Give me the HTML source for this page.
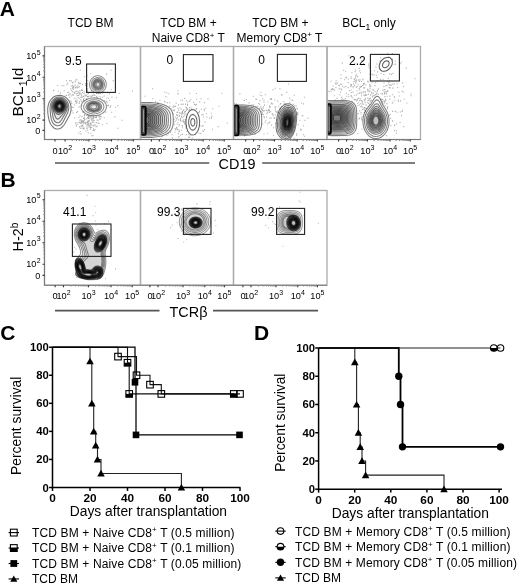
<!DOCTYPE html>
<html><head><meta charset="utf-8"><style>
html,body{margin:0;padding:0;background:#fff;}
body{width:520px;height:586px;overflow:hidden;}
svg{display:block;font-family:"Liberation Sans", sans-serif;will-change:transform;}
</style></head><body>
<svg width="520" height="586" viewBox="0 0 520 586">
<rect width="520" height="586" fill="#fff"/>
<clipPath id="a1"><rect x="44.5" y="46.5" width="96.0" height="93.0"/></clipPath>
<g clip-path="url(#a1)">

<path d="M79.5 120.5h1M95.6 126.6h1M82.8 128.4h1M86.4 128.6h1M87.5 123.4h1M83.6 120.7h1M79.8 122.7h1M91.9 122.1h1M90.2 129.4h1M76.3 122.8h1M102.1 124.8h1M93.8 120.8h1M83.4 129.2h1M85.2 123.3h1M87.6 125.5h1M80.5 133.9h1M91.5 120.1h1M96.4 120.0h1M86.2 126.3h1M93.4 122.3h1M78.3 117.5h1M87.1 122.4h1M90.7 125.1h1M79.9 128.3h1M87.5 122.3h1M98.3 115.2h1M103.7 117.7h1M93.0 116.6h1M82.2 125.4h1M80.7 123.8h1M79.5 120.4h1M91.2 119.0h1M92.5 130.5h1M84.0 122.7h1M80.6 126.5h1M89.5 123.4h1M89.9 117.0h1M87.2 130.3h1M87.6 118.4h1M81.4 116.6h1M88.8 117.7h1M96.1 117.4h1M88.4 126.9h1M88.4 121.3h1M90.6 123.1h1M91.2 115.9h1M91.2 127.5h1M83.2 128.1h1M78.4 122.8h1M89.6 115.9h1M80.4 122.2h1M87.6 115.6h1M90.8 119.5h1M85.5 131.0h1M88.6 118.7h1M78.2 133.2h1M82.9 118.2h1M81.1 121.5h1M91.9 118.5h1M79.7 131.5h1M82.6 126.2h1M81.4 128.1h1M88.0 124.8h1M91.2 135.8h1M81.6 125.8h1M86.9 124.2h1M97.7 116.0h1M86.1 115.5h1M83.1 122.1h1M90.3 127.0h1M86.7 127.7h1M83.8 115.3h1M77.2 124.2h1M92.9 122.2h1M84.6 114.3h1M88.0 124.1h1M95.8 122.6h1M92.5 135.8h1M87.3 121.1h1M93.3 116.5h1M94.1 125.5h1M87.6 120.8h1M85.8 118.9h1M83.5 118.7h1M82.2 122.1h1M90.2 123.9h1M86.5 128.4h1M76.0 126.0h1M87.1 117.6h1M94.4 129.5h1M86.3 128.5h1M76.9 111.6h1M87.3 125.0h1M92.7 126.0h1M89.2 126.8h1M85.4 124.3h1M99.4 119.4h1M92.9 120.1h1M90.4 133.2h1M92.7 125.1h1M96.7 126.0h1M92.9 117.9h1M88.5 114.9h1M84.1 114.6h1M83.1 121.7h1M87.8 116.2h1M94.9 117.2h1M89.8 127.9h1M88.2 117.9h1M91.3 120.4h1M81.3 120.2h1M76.1 112.6h1M85.4 122.2h1M81.1 120.2h1M97.7 123.1h1M87.0 114.5h1M86.5 122.5h1M78.8 122.3h1M89.7 117.0h1M84.3 119.7h1M94.7 117.7h1M93.0 129.1h1M71.7 110.8h1M84.0 118.7h1M95.5 116.9h1M92.7 118.5h1M89.1 125.3h1M79.5 115.9h1M79.8 119.7h1M98.6 123.2h1M75.0 123.0h1M91.8 116.7h1M93.7 130.6h1M82.8 123.8h1M84.8 123.5h1M88.3 121.4h1M81.8 121.0h1M80.6 126.0h1M82.7 120.9h1M87.6 117.2h1M90.2 125.3h1M87.9 121.4h1M88.5 116.4h1M83.9 115.6h1M83.7 128.0h1M94.7 124.8h1M87.7 132.9h1M77.5 91.4h1M79.7 83.7h1M86.0 98.7h1M105.9 101.3h1M80.0 83.2h1M70.7 86.0h1M71.2 95.8h1M77.6 95.7h1M69.3 97.1h1M84.1 117.5h1M77.9 82.2h1M86.7 96.5h1M80.2 99.6h1M74.2 118.0h1M77.6 97.8h1M80.2 97.2h1M86.0 95.2h1M72.5 82.2h1M76.9 88.0h1M67.2 83.1h1M87.2 88.8h1M97.5 120.3h1M93.7 94.7h1M75.2 87.6h1M77.7 87.3h1M77.0 93.3h1M69.2 80.6h1M72.9 87.6h1M67.7 95.0h1M79.1 101.7h1M70.5 81.3h1M75.8 93.6h1M76.5 80.0h1M74.7 81.1h1M70.7 80.7h1M78.1 95.2h1M76.7 95.5h1M83.5 98.5h1M107.0 105.7h1M88.0 93.4h1M74.9 101.4h1M98.4 93.4h1M71.0 101.7h1M72.3 91.9h1M73.1 89.2h1M75.4 91.6h1M87.3 96.5h1M83.3 111.9h1M52.9 90.0h1M86.1 89.8h1M71.9 87.3h1M84.1 76.7h1M73.8 98.2h1M87.2 96.8h1M66.4 84.6h1M65.9 95.4h1M73.8 93.4h1M99.5 96.7h1M110.4 105.8h1M86.4 90.1h1M75.6 79.3h1M82.8 96.4h1M75.6 87.0h1M86.4 99.3h1M68.3 92.3h1M71.2 103.6h1M81.0 97.1h1M75.7 103.4h1M78.6 103.5h1M66.0 80.8h1M79.7 93.1h1M75.6 91.1h1M74.9 85.3h1M82.1 97.3h1M74.2 92.3h1M87.3 80.8h1M83.0 99.5h1M79.8 70.0h1M102.2 97.1h1M73.4 85.9h1M72.0 85.8h1M81.1 105.7h1M84.5 95.3h1M87.0 91.2h1M76.4 87.0h1M81.1 95.2h1M106.8 92.8h1M67.2 92.5h1M78.9 102.1h1M69.2 93.7h1M60.0 92.9h1M80.9 90.4h1M77.2 100.3h1M83.4 96.4h1M105.3 112.1h1M72.0 88.7h1M98.8 117.2h1M64.6 96.0h1M57.9 91.2h1M63.7 90.8h1M81.4 101.1h1M53.3 90.8h1M88.1 96.4h1M82.0 90.4h1M85.0 83.7h1M74.7 81.9h1M81.4 101.4h1M68.3 95.1h1M83.7 91.8h1M78.6 83.7h1M73.0 89.2h1M83.0 100.2h1M83.5 93.4h1M77.3 85.2h1M114.3 116.9h1M99.3 116.2h1M78.9 98.2h1M69.7 94.2h1M79.4 90.9h1M78.4 107.0h1M79.4 94.6h1M72.6 112.9h1M79.2 93.5h1M86.8 90.6h1M74.2 105.0h1M89.7 96.0h1M61.5 85.8h1M75.6 98.0h1M85.1 85.5h1M70.4 88.9h1M75.5 101.6h1M73.0 86.8h1M72.9 95.1h1M79.3 93.9h1M75.4 100.1h1M97.3 97.3h1M85.1 95.7h1M83.6 100.5h1M86.8 94.0h1M78.8 86.6h1M74.7 87.9h1M81.2 89.8h1M63.3 85.7h1M57.1 85.5h1M81.2 101.8h1M72.0 94.8h1M76.5 102.4h1M82.1 84.4h1M78.5 92.5h1M75.6 125.0h1M117.6 128.3h1M103.8 96.0h1M108.0 105.4h1M99.5 116.1h1M105.9 74.1h1M86.7 86.1h1M79.0 126.9h1M116.0 97.8h1M78.5 82.9h1M104.2 100.7h1M106.5 102.4h1M111.2 112.3h1M71.6 107.1h1M109.9 107.1h1M96.3 97.2h1M108.1 98.3h1M99.9 93.4h1M86.5 75.7h1M106.5 98.0h1M71.2 90.6h1M91.7 95.8h1M93.3 117.5h1M110.7 70.3h1M88.7 120.6h1M77.4 93.3h1M115.4 68.9h1M92.6 95.0h1M110.8 89.5h1M118.7 93.3h1M117.4 105.6h1M96.0 96.8h1M90.9 96.5h1M100.2 98.3h1M96.3 93.5h1M101.9 93.2h1M90.6 117.7h1M92.8 92.6h1M96.0 116.4h1M109.2 100.3h1M82.3 112.2h1M71.9 82.9h1M92.3 95.3h1M111.4 97.4h1M81.2 122.6h1M121.5 120.3h1M86.2 89.1h1M87.1 83.9h1M99.9 116.8h1M109.1 93.8h1M78.5 106.7h1M100.9 116.7h1M115.1 107.3h1M106.3 123.5h1M112.7 80.6h1M90.9 90.6h1M99.7 118.9h1M82.0 92.5h1M132.0 91.0h1M109.5 107.2h1M81.2 94.0h1M90.3 73.7h1M94.4 95.5h1M72.8 107.5h1M69.6 101.0h1" stroke="#aaa" stroke-width="1.06" fill="none"/>
<path d="M58.5 125.8 56.8 125.8 55.0 125.1 53.5 123.8 52.1 121.5 51.3 119.2 50.7 116.2 50.1 110.5 50.1 107.5 50.3 105.2 50.9 103.2 51.9 101.2 53.1 99.8 54.5 98.6 56.2 97.6 58.0 97.1 60.0 97.0 62.0 97.3 63.5 97.9 65.2 99.1 66.5 100.5 67.6 102.2 68.3 104.0 68.7 106.0 68.8 108.0 68.4 110.5 67.7 112.8 63.3 121.5 62.2 123.2 61.0 124.5 59.8 125.3 58.5 125.8" fill="#000" fill-opacity="0.02" fill-rule="evenodd" stroke="#000" stroke-opacity="0.55" stroke-width="1.05"/>
<path d="M58.0 122.8 56.8 122.7 55.5 122.0 54.5 120.9 53.6 119.2 53.0 117.0 51.7 109.5 51.5 106.2 51.8 104.5 52.3 103.0 53.2 101.5 54.2 100.3 55.5 99.3 57.0 98.5 58.5 98.2 60.0 98.1 61.5 98.4 63.0 99.0 64.2 99.8 65.4 101.0 66.4 102.5 67.0 104.0 67.4 105.8 67.4 107.5 67.1 109.2 66.4 111.2 61.5 120.0 59.8 122.0 59.0 122.5 58.0 122.8" fill="#000" fill-opacity="0.03" fill-rule="evenodd" stroke="#000" stroke-opacity="0.55" stroke-width="1.05"/>
<path d="M58.2 119.0 57.5 119.1 56.8 118.8 56.0 118.0 55.5 117.0 52.9 109.8 52.5 107.8 52.5 105.8 52.8 104.2 53.5 102.8 54.3 101.5 55.2 100.5 57.5 99.3 58.8 99.0 60.2 99.0 61.5 99.3 62.8 99.9 64.0 100.8 64.9 101.8 65.6 103.0 66.2 104.5 66.4 106.0 66.4 107.5 65.8 109.8 64.6 112.0 59.5 118.2 58.2 119.0" fill="#000" fill-opacity="0.04" fill-rule="evenodd" stroke="#000" stroke-opacity="0.55" stroke-width="1.05"/>
<path d="M59.0 114.5 58.0 114.5 57.0 114.1 56.0 113.2 55.1 112.0 54.2 110.5 53.6 109.0 53.3 106.2 53.8 103.8 54.5 102.5 55.2 101.6 57.2 100.2 58.5 99.8 59.8 99.7 61.0 99.9 62.2 100.4 64.1 102.0 65.3 104.2 65.7 106.8 65.1 109.2 63.8 111.5 61.5 113.4 60.2 114.1 59.0 114.5" fill="#000" fill-opacity="0.05" fill-rule="evenodd" stroke="#000" stroke-opacity="0.55" stroke-width="1.05"/>
<path d="M59.0 113.0 58.0 112.9 57.0 112.4 55.3 110.8 54.2 108.5 53.9 106.0 54.5 103.8 55.8 101.9 57.5 100.8 58.5 100.5 59.8 100.4 61.8 100.9 63.5 102.2 64.7 104.2 65.0 106.8 64.5 109.0 63.1 111.0 61.2 112.4 60.0 112.9 59.0 113.0" fill="#000" fill-opacity="0.06" fill-rule="evenodd" stroke="#000" stroke-opacity="0.55" stroke-width="1.05"/>
<path d="M60.0 112.0 59.0 112.1 58.0 111.9 56.2 110.8 55.0 109.0 54.5 106.8 54.7 104.8 55.7 102.8 57.2 101.5 59.2 100.9 61.2 101.2 62.8 102.2 64.0 104.0 64.5 106.0 64.2 108.0 63.2 109.9 61.8 111.3 60.0 112.0" fill="#000" fill-opacity="0.08" fill-rule="evenodd" stroke="#000" stroke-opacity="0.55" stroke-width="1.05"/>
<path d="M59.5 111.5 57.8 111.2 56.2 110.1 55.2 108.2 54.9 106.2 55.3 104.2 56.2 102.8 57.8 101.7 59.5 101.3 61.2 101.7 62.7 102.8 63.7 104.2 64.1 106.2 63.7 108.2 62.8 109.8 61.2 111.0 59.5 111.5" fill="#000" fill-opacity="0.1" fill-rule="evenodd" stroke="#000" stroke-opacity="0.55" stroke-width="1.05"/>
<path d="M60.5 110.8 58.8 110.9 57.2 110.3 56.0 109.0 55.4 107.2 55.3 105.5 56.0 103.8 57.2 102.4 58.8 101.8 60.2 101.8 61.8 102.4 63.0 103.8 63.6 105.2 63.6 107.0 63.0 108.7 61.9 110.0 60.5 110.8" fill="#000" fill-opacity="0.12" fill-rule="evenodd" stroke="#000" stroke-opacity="0.55" stroke-width="1.05"/>
<path d="M60.5 110.3 59.0 110.4 57.5 109.9 56.4 108.8 55.8 107.2 55.7 105.5 56.3 104.0 57.2 102.9 58.8 102.2 60.2 102.2 61.5 102.8 62.5 103.8 63.2 105.2 63.3 106.8 62.8 108.2 61.8 109.5 60.5 110.3" fill="#000" fill-opacity="0.12" fill-rule="evenodd" stroke="#000" stroke-opacity="0.55" stroke-width="1.05"/>
<path d="M60.5 109.8 59.0 110.0 57.8 109.5 56.8 108.5 56.2 107.2 56.1 105.8 56.6 104.2 57.5 103.2 58.8 102.6 60.0 102.6 61.2 103.1 62.2 104.0 62.8 105.2 62.9 106.8 62.5 108.0 61.7 109.0 60.5 109.8" fill="#000" fill-opacity="0.1" fill-rule="evenodd" stroke="#000" stroke-opacity="0.55" stroke-width="1.05"/>
<path d="M59.8 109.0 58.8 109.0 57.8 108.4 57.1 107.5 56.9 106.5 57.0 105.3 57.5 104.4 58.2 103.7 59.2 103.4 60.2 103.5 61.2 104.1 61.9 105.0 62.1 106.0 62.0 107.0 61.5 108.0 60.8 108.7 59.8 109.0" fill="#fff" fill-opacity="0.3" fill-rule="evenodd" stroke="#000" stroke-opacity="0.55" stroke-width="1.05"/>
<path d="M59.5 108.5 58.8 108.4 58.0 107.9 57.5 107.0 57.4 106.2 57.5 105.2 58.0 104.5 58.8 104.0 59.5 103.9 60.2 104.0 61.0 104.6 61.4 105.2 61.6 106.2 61.5 107.0 61.0 107.8 60.2 108.3 59.5 108.5" fill="#fff" fill-opacity="0.3" fill-rule="evenodd" stroke="#000" stroke-opacity="0.55" stroke-width="1.05"/>
<path d="M58.2 129.0 56.0 128.9 54.0 128.0 52.1 126.2 50.6 124.0 49.3 121.0 48.4 117.2 47.8 112.8 47.7 108.8 48.1 105.8 48.8 103.2 49.9 101.0 51.4 99.0 53.2 97.3 55.5 96.1 57.8 95.4 60.0 95.3 62.2 95.7 64.5 96.6 66.5 97.9 68.2 99.8 69.5 101.8 70.4 104.0 71.0 106.5 71.1 109.2 70.6 112.2 69.7 115.0 64.6 124.2 63.1 126.2 61.5 127.7 60.0 128.5 58.2 129.0M59.5 109.5 58.2 109.2 57.3 108.5 56.7 107.5 56.5 106.2 56.7 105.0 57.3 104.0 58.2 103.2 59.5 103.0 60.8 103.3 61.7 104.0 62.3 105.0 62.5 106.2 62.2 107.5 61.6 108.5 60.8 109.2 59.5 109.5M60.2 107.5 59.2 107.7 58.7 107.5 58.2 107.0 58.1 105.8 58.3 105.2 58.9 104.8 60.0 104.7 60.8 105.5 60.9 106.5 60.2 107.5" fill="none" stroke="#000" stroke-opacity="0.55" stroke-width="1.05"/>
<path d="M94.8 112.3 92.2 112.2 90.0 111.6 88.0 110.5 86.8 109.2 86.0 107.8 86.0 106.0 86.8 104.2 88.2 102.9 89.8 102.1 91.5 101.5 93.2 101.3 95.2 101.4 97.0 101.8 98.7 102.5 100.0 103.4 101.0 104.5 101.5 105.8 101.7 107.0 101.4 108.2 100.7 109.5 99.6 110.5 98.2 111.3 96.5 112.0 94.8 112.3" fill="#000" fill-opacity="0.08" fill-rule="evenodd" stroke="#000" stroke-opacity="0.45" stroke-width="1.05"/>
<path d="M95.5 111.3 93.5 111.4 91.5 111.1 89.8 110.4 88.4 109.5 87.5 108.2 87.2 107.0 87.5 105.5 88.3 104.2 89.2 103.5 90.5 102.8 92.0 102.4 93.5 102.2 95.0 102.3 96.5 102.6 98.0 103.2 99.1 104.0 99.9 105.0 100.3 106.0 100.4 107.2 100.1 108.2 99.4 109.2 98.2 110.2 97.0 110.8 95.5 111.3" fill="#000" fill-opacity="0.08" fill-rule="evenodd" stroke="#000" stroke-opacity="0.45" stroke-width="1.05"/>
<path d="M95.5 110.5 94.0 110.7 92.2 110.6 90.8 110.1 89.4 109.2 88.6 108.2 88.2 107.0 88.4 105.8 89.0 104.8 89.9 104.0 91.0 103.4 93.5 102.9 96.1 103.2 97.3 103.8 98.2 104.4 98.9 105.2 99.3 106.2 99.3 107.2 99.1 108.0 98.6 108.8 97.8 109.6 95.5 110.5" fill="#000" fill-opacity="0.05" fill-rule="evenodd" stroke="#000" stroke-opacity="0.45" stroke-width="1.05"/>
<path d="M95.5 109.8 94.2 110.0 92.8 109.9 91.5 109.6 90.5 109.0 89.7 108.2 89.3 107.2 89.3 106.2 89.8 105.2 91.2 104.1 93.2 103.6 95.5 103.8 97.2 104.7 98.2 106.0 98.4 106.8 98.3 107.5 97.9 108.2 97.2 108.9 95.5 109.8" fill="#fff" fill-opacity="0.5" fill-rule="evenodd" stroke="#000" stroke-opacity="0.45" stroke-width="1.05"/>
<path d="M96.2 115.5 92.2 115.6 88.5 114.9 85.2 113.4 82.8 111.2 82.0 110.0 81.4 108.8 81.1 107.5 81.2 106.0 81.4 104.8 82.0 103.5 82.9 102.2 84.0 101.2 86.2 99.7 88.8 98.6 91.5 98.1 94.8 97.9 97.8 98.4 100.2 99.1 102.8 100.5 104.7 102.2 106.0 104.2 106.5 106.2 106.3 108.2 105.3 110.5 103.8 112.3 101.5 113.9 99.0 114.9 96.2 115.5M95.8 113.8 92.8 113.9 89.8 113.3 87.0 112.1 85.1 110.5 83.9 108.5 83.7 107.2 83.7 106.2 84.3 104.2 86.0 102.2 87.8 101.1 90.0 100.2 92.2 99.8 94.8 99.7 97.2 100.1 99.2 100.8 101.2 102.0 102.6 103.2 103.5 104.8 103.9 106.5 103.7 108.2 103.0 109.8 101.7 111.2 100.0 112.4 98.0 113.3 95.8 113.8M95.0 108.8 93.2 108.9 91.6 108.2 91.1 107.8 90.8 107.0 90.9 106.2 91.1 105.8 92.2 105.0 93.5 104.7 94.8 104.8 96.0 105.3 96.7 106.2 96.8 107.2 96.0 108.2 95.0 108.8" fill="none" stroke="#000" stroke-opacity="0.45" stroke-width="1.05"/>
<path d="M98.8 91.3 96.2 91.1 95.0 90.6 93.8 89.8 92.8 88.8 92.0 87.8 91.2 85.2 91.4 82.8 91.8 81.5 92.5 80.2 93.4 79.2 94.5 78.4 95.8 77.9 97.0 77.6 99.5 77.7 100.8 78.1 102.0 78.9 103.0 79.9 103.7 81.0 104.5 83.5 104.6 84.8 104.4 86.2 103.2 88.6 102.2 89.7 101.2 90.4 100.0 91.0 98.8 91.3" fill="#000" fill-opacity="0.04" fill-rule="evenodd" stroke="#000" stroke-opacity="0.42" stroke-width="1.05"/>
<path d="M98.2 90.0 96.0 89.7 94.2 88.6 93.0 86.8 92.5 84.8 92.7 82.8 93.8 80.8 95.5 79.4 97.5 78.8 99.8 79.1 101.5 80.2 102.8 82.0 103.3 84.0 103.0 86.2 102.0 88.1 100.2 89.5 98.2 90.0" fill="#000" fill-opacity="0.06" fill-rule="evenodd" stroke="#000" stroke-opacity="0.42" stroke-width="1.05"/>
<path d="M99.0 89.0 97.2 89.1 95.5 88.5 94.2 87.2 93.4 85.5 93.4 83.5 94.1 81.8 95.3 80.5 97.0 79.7 98.8 79.7 100.2 80.3 101.6 81.5 102.4 83.2 102.5 85.0 101.9 86.8 100.8 88.1 99.0 89.0" fill="#000" fill-opacity="0.06" fill-rule="evenodd" stroke="#000" stroke-opacity="0.42" stroke-width="1.05"/>
<path d="M98.2 88.3 96.8 88.1 95.5 87.4 94.6 86.2 94.1 84.8 94.3 83.2 95.0 81.9 96.1 81.0 97.5 80.5 99.0 80.7 100.2 81.4 101.2 82.5 101.7 84.0 101.5 85.5 100.8 86.9 99.5 87.9 98.2 88.3" fill="#000" fill-opacity="0.04" fill-rule="evenodd" stroke="#000" stroke-opacity="0.42" stroke-width="1.05"/>
<path d="M98.8 87.3 97.5 87.4 96.5 87.1 95.6 86.2 95.1 85.2 95.0 84.0 95.4 82.8 96.2 81.9 97.2 81.5 98.5 81.4 99.5 81.9 100.2 82.6 100.8 83.7 100.8 84.8 100.5 85.8 99.8 86.7 98.8 87.3" fill="#fff" fill-opacity="0.5" fill-rule="evenodd" stroke="#000" stroke-opacity="0.42" stroke-width="1.05"/>
<path d="M98.5 93.0 96.8 93.0 95.2 92.6 93.8 91.9 92.5 91.0 91.3 89.8 90.4 88.2 89.8 86.8 89.5 85.0 89.6 83.2 89.9 81.8 90.6 80.2 91.6 78.8 92.8 77.6 94.2 76.6 95.8 76.1 97.2 75.8 99.0 75.8 100.5 76.2 102.0 76.9 103.2 77.8 104.4 79.0 105.4 80.5 106.0 82.0 106.3 83.8 106.2 85.5 105.9 87.0 105.1 88.8 104.3 90.0 103.2 91.0 101.8 92.1 100.2 92.7 98.5 93.0M98.2 86.3 97.5 86.3 96.9 86.0 96.4 85.5 96.1 84.8 96.1 84.0 96.4 83.2 97.5 82.5 98.2 82.5 98.8 82.8 99.4 83.2 99.7 84.0 99.7 84.8 99.4 85.5 98.9 86.0 98.2 86.3" fill="none" stroke="#000" stroke-opacity="0.42" stroke-width="1.05"/>

</g>
<clipPath id="a2"><rect x="140.5" y="46.5" width="93.0" height="93.0"/></clipPath>
<g clip-path="url(#a2)">

<path d="M178.2 110.1h1M181.1 139.9h1M181.9 127.8h1M190.0 147.4h1M196.1 108.6h1M173.0 114.0h1M157.2 103.1h1M177.0 115.3h1M180.2 135.3h1M164.3 92.0h1M189.0 101.1h1M177.9 133.9h1M184.2 123.0h1M191.1 109.5h1M178.9 112.7h1M172.6 106.1h1M181.9 112.4h1M177.8 119.8h1M177.5 122.7h1M160.1 138.8h1M173.8 110.7h1M168.3 93.8h1M194.9 134.7h1M164.4 101.9h1M177.1 115.8h1M181.3 115.9h1M176.1 127.4h1M164.1 101.2h1M176.7 124.2h1M167.8 133.9h1M186.5 108.8h1M185.9 100.7h1M195.0 139.5h1M182.6 119.9h1M181.8 121.2h1M185.3 128.0h1M177.3 112.2h1M183.3 113.8h1M183.3 122.5h1M226.9 123.0h1M188.8 109.6h1M157.7 102.7h1M173.5 119.2h1M184.9 121.1h1M176.0 114.9h1M212.2 108.8h1M166.8 102.6h1M152.0 88.7h1M183.2 116.5h1M155.1 101.6h1M152.3 98.8h1M205.2 108.2h1M144.6 96.2h1M177.2 115.6h1M165.6 146.1h1M211.0 117.9h1M171.5 134.7h1M169.5 106.2h1M184.3 112.1h1M199.0 111.4h1M179.1 115.5h1M182.0 111.7h1M174.7 128.5h1M175.7 103.1h1M188.1 134.3h1M186.2 116.9h1M181.9 125.9h1M182.2 117.7h1M182.5 104.1h1M189.5 135.8h1M170.7 108.7h1M177.5 108.3h1M172.7 110.1h1M181.0 130.2h1M179.8 119.6h1M182.0 100.3h1M161.4 136.6h1M182.2 111.2h1M176.3 112.3h1M181.9 113.6h1M173.8 124.4h1M221.5 93.2h1M178.8 130.2h1M181.7 125.6h1M176.8 117.9h1M168.7 107.0h1M178.6 116.8h1M180.4 100.2h1M175.0 117.2h1M181.2 114.2h1M185.0 111.4h1M173.8 106.2h1M191.7 138.0h1M188.1 137.4h1M184.2 98.4h1M177.6 91.0h1M176.6 128.2h1M179.0 124.7h1M180.5 113.0h1M159.5 100.3h1M185.4 107.3h1M183.7 121.7h1M166.2 92.7h1M180.3 120.9h1M180.7 104.4h1M184.1 115.2h1M198.7 112.2h1M176.2 129.1h1M178.4 136.6h1M177.3 93.9h1M180.7 109.3h1M179.4 113.8h1M169.8 132.4h1M204.1 129.6h1M174.5 132.2h1M178.5 131.6h1M169.2 102.8h1M185.3 114.1h1M183.2 110.4h1M182.0 134.4h1M185.9 110.1h1M185.0 104.2h1M166.4 135.3h1M182.6 104.5h1M217.7 126.6h1M174.4 121.8h1M212.0 129.2h1M181.6 112.1h1M200.5 98.7h1M203.9 102.6h1M210.8 113.3h1M172.5 107.5h1M172.1 137.9h1M218.5 106.3h1M174.0 110.0h1M178.4 137.2h1M178.0 104.9h1M176.0 118.9h1M165.5 96.6h1M196.1 93.5h1M185.7 126.3h1M198.1 112.7h1M187.2 105.2h1M180.1 120.5h1M184.2 112.8h1M178.4 126.0h1M188.3 110.5h1M202.5 125.6h1M183.3 109.8h1M178.8 131.8h1M200.3 133.4h1M196.2 99.3h1M202.0 130.8h1M203.7 109.4h1M177.4 129.6h1M186.0 125.4h1M174.9 106.4h1M203.9 110.8h1M186.1 134.7h1M184.2 124.3h1M193.0 102.3h1M198.5 133.2h1M190.3 99.7h1M202.7 114.6h1M182.2 112.3h1M189.0 107.8h1M185.0 123.5h1M203.1 117.0h1M206.0 113.7h1M183.2 121.3h1M195.8 104.6h1M190.6 107.9h1M196.6 144.9h1M175.0 129.8h1M184.7 119.5h1M184.5 111.5h1M207.5 98.8h1M185.1 104.1h1M189.3 93.2h1M186.1 107.6h1M187.4 102.0h1M186.9 109.4h1M175.5 120.7h1M211.2 116.1h1M186.5 131.5h1M203.0 131.2h1M201.3 114.8h1M201.5 126.3h1M199.5 125.8h1M179.6 108.0h1M199.3 101.6h1M194.7 142.1h1M181.7 134.3h1M202.9 165.7h1M186.9 104.3h1M177.5 93.6h1M187.1 143.5h1M186.1 140.2h1M186.9 108.9h1M206.4 117.1h1M194.9 105.0h1M209.2 118.1h1M180.8 117.1h1M204.4 122.1h1M189.0 137.3h1M177.8 120.0h1M180.0 118.5h1M183.2 121.1h1M200.8 109.2h1M195.7 108.8h1M194.0 104.4h1M193.3 141.0h1" stroke="#aaa" stroke-width="1.06" fill="none"/>
<path d="M128.5 105.6 136.0 105.1 149.0 105.2 155.5 105.8 160.5 107.1 162.5 108.0 164.2 109.1 165.6 110.2 166.8 111.8 167.7 113.5 168.1 115.2 168.4 120.0 168.1 124.8 167.7 126.5 166.8 128.2 165.6 129.8 164.2 130.9 162.5 132.0 160.5 132.9 155.5 134.2 149.0 134.8 136.0 134.9 128.5 134.4" fill="#000" fill-opacity="0.04" fill-rule="evenodd" stroke="#000" stroke-opacity="0.5" stroke-width="1.05"/>
<path d="M128.5 106.7 135.5 106.2 147.8 106.2 154.0 106.8 158.8 107.9 160.8 108.7 162.5 109.8 163.9 111.0 164.9 112.2 165.7 113.8 166.2 115.5 166.5 120.0 166.2 124.5 165.7 126.2 164.9 127.8 163.9 129.0 162.5 130.2 160.8 131.3 158.8 132.1 154.0 133.2 147.8 133.8 135.5 133.8 128.5 133.3" fill="#000" fill-opacity="0.05" fill-rule="evenodd" stroke="#000" stroke-opacity="0.5" stroke-width="1.05"/>
<path d="M128.5 107.8 135.2 107.2 146.8 107.2 152.8 107.7 157.2 108.8 159.1 109.5 160.8 110.5 162.0 111.5 163.0 112.8 163.8 114.2 164.3 115.8 164.6 120.0 164.3 124.2 163.8 125.8 163.0 127.2 162.0 128.5 160.8 129.5 159.1 130.5 157.2 131.2 152.8 132.3 146.8 132.8 135.2 132.8 128.5 132.2" fill="#000" fill-opacity="0.06" fill-rule="evenodd" stroke="#000" stroke-opacity="0.5" stroke-width="1.05"/>
<path d="M128.5 109.0 131.2 108.6 134.8 108.3 145.2 108.3 151.2 108.7 155.8 109.6 157.5 110.3 159.1 111.2 160.3 112.2 161.2 113.4 161.9 114.5 162.3 116.0 162.6 120.0 162.3 124.0 161.9 125.5 161.2 126.6 160.3 127.8 159.1 128.8 157.5 129.7 155.8 130.4 151.2 131.3 145.2 131.7 134.8 131.7 131.2 131.4 128.5 131.0" fill="#000" fill-opacity="0.07" fill-rule="evenodd" stroke="#000" stroke-opacity="0.5" stroke-width="1.05"/>
<path d="M128.5 110.3 131.0 109.8 134.0 109.4 143.0 109.3 149.2 109.6 154.0 110.4 157.1 111.8 158.4 112.8 159.3 113.8 160.0 115.0 160.4 116.2 160.7 120.0 160.4 123.8 160.0 125.0 159.3 126.2 158.4 127.2 157.1 128.2 154.0 129.6 149.2 130.4 143.0 130.7 134.0 130.6 131.0 130.2 128.5 129.7" fill="#000" fill-opacity="0.07" fill-rule="evenodd" stroke="#000" stroke-opacity="0.5" stroke-width="1.05"/>
<path d="M128.5 111.6 132.5 110.7 138.0 110.4 147.0 110.5 149.8 110.8 152.3 111.2 155.4 112.5 156.4 113.2 157.4 114.2 158.0 115.2 158.5 116.5 158.7 120.0 158.5 123.5 158.0 124.8 157.4 125.8 156.4 126.8 155.4 127.5 152.3 128.8 149.8 129.2 147.0 129.5 138.0 129.6 132.5 129.3 128.5 128.4" fill="#000" fill-opacity="0.07" fill-rule="evenodd" stroke="#000" stroke-opacity="0.5" stroke-width="1.05"/>
<path d="M128.5 113.1 131.8 112.0 136.5 111.5 145.5 111.5 148.5 111.7 150.8 112.1 153.7 113.2 155.5 114.8 156.1 115.8 156.6 117.0 156.8 120.0 156.6 123.0 156.1 124.2 155.5 125.2 153.7 126.8 150.8 127.9 148.5 128.3 145.5 128.5 136.5 128.5 131.8 128.0 128.5 126.9" fill="#000" fill-opacity="0.07" fill-rule="evenodd" stroke="#000" stroke-opacity="0.5" stroke-width="1.05"/>
<path d="M128.5 115.1 129.6 114.2 131.0 113.5 134.8 112.7 138.0 112.5 143.2 112.5 148.5 112.9 151.5 113.8 152.8 114.5 153.6 115.2 154.3 116.2 154.6 117.2 154.9 120.0 154.6 122.8 154.3 123.8 153.6 124.8 152.8 125.5 151.5 126.2 148.5 127.1 143.2 127.5 138.0 127.5 134.8 127.3 131.0 126.5 129.6 125.8 128.5 124.9" fill="#000" fill-opacity="0.07" fill-rule="evenodd" stroke="#000" stroke-opacity="0.5" stroke-width="1.05"/>
<path d="M141.2 126.5 137.0 126.4 134.0 126.0 131.8 125.3 130.3 124.2 129.7 123.5 129.3 122.5 129.1 120.0 129.3 117.5 129.7 116.5 130.3 115.8 131.8 114.7 134.0 114.0 137.0 113.6 141.0 113.5 145.0 113.6 148.0 114.0 150.2 114.7 151.7 115.8 152.3 116.5 152.7 117.5 152.9 120.0 152.7 122.5 152.3 123.5 151.7 124.2 150.2 125.3 148.0 126.0 145.2 126.4 141.2 126.5" fill="#000" fill-opacity="0.06" fill-rule="evenodd" stroke="#000" stroke-opacity="0.5" stroke-width="1.05"/>
<path d="M145.5 125.3 142.2 125.4 137.2 125.3 134.8 125.0 132.9 124.2 131.8 123.2 131.1 121.8 131.0 118.8 131.6 117.0 132.5 116.0 133.8 115.4 135.5 114.9 137.5 114.6 145.2 114.7 147.5 115.1 149.1 115.8 150.2 116.8 150.8 118.0 151.0 120.5 150.8 122.3 150.0 123.5 149.1 124.2 147.5 124.9 145.5 125.3" fill="#000" fill-opacity="0.05" fill-rule="evenodd" stroke="#000" stroke-opacity="0.5" stroke-width="1.05"/>
<path d="M144.5 124.3 137.8 124.3 136.0 124.0 134.5 123.4 133.5 122.5 133.0 121.5 132.9 119.2 133.3 117.8 133.9 117.0 135.0 116.3 137.8 115.7 144.2 115.7 146.0 116.0 147.5 116.6 148.5 117.5 149.0 118.5 149.1 120.8 148.8 122.0 148.2 122.8 147.4 123.5 146.0 124.0 144.5 124.3" fill="#000" fill-opacity="0.05" fill-rule="evenodd" stroke="#000" stroke-opacity="0.5" stroke-width="1.05"/>
<path d="M128.5 102.8 137.8 102.4 151.8 102.6 158.5 103.4 161.5 104.1 164.2 105.0 166.5 106.0 168.5 107.3 170.2 108.8 171.5 110.5 172.4 112.5 172.9 114.5 173.2 116.8 173.3 120.0 173.2 123.2 172.9 125.5 172.4 127.5 171.5 129.5 170.2 131.2 168.5 132.7 166.5 134.0 164.2 135.0 161.5 135.9 158.5 136.6 151.8 137.4 137.8 137.6 128.5 137.2M128.5 104.3 136.8 103.9 150.5 104.0 157.0 104.7 159.8 105.3 162.2 106.1 164.5 107.1 166.3 108.2 167.9 109.8 169.0 111.2 169.9 113.0 170.3 114.8 170.6 117.0 170.7 120.0 170.6 123.0 170.3 125.2 169.9 127.0 169.0 128.8 167.9 130.2 166.3 131.8 164.5 132.9 162.2 133.9 159.8 134.7 157.0 135.3 150.5 136.0 136.8 136.1 128.5 135.7" fill="none" stroke="#000" stroke-opacity="0.5" stroke-width="1.05"/>
<path d="M194.0 134.8 192.5 135.0 191.2 134.7 190.0 133.9 188.7 132.5 187.7 130.8 186.8 128.5 186.3 126.2 186.0 123.5 186.0 121.0 186.3 118.2 186.8 116.0 187.6 114.0 188.6 112.2 189.8 110.9 191.0 110.1 192.5 109.6 193.8 109.7 195.0 110.3 196.2 111.3 197.3 112.8 198.2 114.5 198.9 116.5 199.6 121.0 199.4 125.8 198.3 129.8 197.5 131.5 196.5 133.0 195.2 134.1 194.0 134.8M193.5 130.1 192.5 130.1 191.8 129.9 191.0 129.4 190.2 128.5 189.1 126.0 188.6 123.0 188.8 119.8 189.7 117.0 191.0 115.2 191.8 114.7 192.8 114.4 194.2 114.9 195.7 116.5 196.7 119.0 197.0 121.8 196.8 124.8 196.1 127.2 195.0 129.0 193.5 130.1M193.2 126.0 192.5 126.1 191.7 125.5 191.0 124.2 190.8 122.8 190.8 121.2 191.2 119.8 192.0 118.8 192.8 118.5 193.5 118.7 194.2 119.5 194.6 120.5 194.8 121.8 194.8 123.2 194.5 124.4 194.0 125.4 193.2 126.0" fill="none" stroke="#000" stroke-opacity="0.6" stroke-width="1.05"/>
<rect x="141.2" y="106.5" width="4.6" height="28.5" rx="1.5" fill="#444" stroke="#000" stroke-width="1.7"/><line x1="143.5" y1="109.5" x2="143.5" y2="132.0" stroke="#999" stroke-width="1.05"/>
</g>
<clipPath id="a3"><rect x="233.5" y="46.5" width="93.5" height="93.0"/></clipPath>
<g clip-path="url(#a3)">

<path d="M268.7 110.1h1M268.0 109.5h1M280.2 103.8h1M248.5 102.9h1M283.5 101.7h1M266.4 113.6h1M269.3 122.4h1M269.6 106.7h1M253.2 105.1h1M281.0 107.0h1M271.1 125.1h1M297.0 109.0h1M262.8 108.3h1M262.9 106.7h1M269.0 106.1h1M262.2 98.7h1M263.0 111.0h1M262.0 109.9h1M266.8 110.8h1M252.8 96.2h1M264.0 110.7h1M256.2 99.3h1M269.1 106.2h1M270.1 99.3h1M218.3 101.3h1M276.4 112.1h1M233.8 103.4h1M279.4 108.3h1M283.5 104.2h1M278.2 106.3h1M262.3 110.6h1M255.4 99.1h1M278.1 112.6h1M243.8 100.4h1M263.5 100.3h1M259.2 104.3h1M246.0 99.5h1M281.6 94.9h1M251.5 104.9h1M274.9 109.9h1M265.3 120.3h1M268.7 112.5h1M301.6 115.8h1M284.2 103.7h1M258.2 103.5h1M273.8 118.4h1M261.8 114.4h1M264.8 94.7h1M260.4 106.7h1M270.7 98.5h1M275.3 111.5h1M262.9 114.8h1M261.1 111.3h1M261.3 95.6h1M264.0 105.1h1M270.2 111.8h1M269.1 110.9h1M301.1 103.0h1M243.6 100.5h1M268.1 123.0h1M257.4 106.3h1M275.3 123.4h1M272.6 115.8h1M263.5 134.0h1M271.9 113.6h1M276.6 131.5h1M255.5 106.5h1M271.7 113.8h1M263.5 102.3h1M260.9 108.3h1M266.8 124.0h1M269.8 99.0h1M265.7 110.4h1M274.6 107.6h1M264.6 122.1h1M295.7 105.7h1M279.4 88.9h1M272.2 103.9h1M269.4 118.2h1M262.2 124.0h1M262.1 112.9h1M267.2 133.3h1M275.3 106.8h1M279.6 104.2h1M271.0 103.0h1M259.6 95.0h1M271.1 99.4h1M274.7 88.2h1M243.9 136.0h1M297.0 112.8h1M263.9 117.8h1M267.2 112.3h1M259.6 100.7h1M254.4 134.4h1M272.6 89.6h1M260.4 92.3h1M263.5 116.6h1M268.1 110.8h1M270.6 118.0h1M274.8 114.9h1M277.1 111.0h1M274.9 106.7h1M235.9 103.9h1M261.2 109.4h1M259.2 108.8h1M285.4 104.1h1M272.6 114.5h1M259.5 108.2h1M267.5 101.7h1M270.5 104.0h1M279.7 109.3h1M273.9 117.7h1M239.4 93.9h1M270.1 143.9h1M273.2 127.8h1M300.1 129.0h1M302.3 115.8h1M290.6 100.0h1M297.4 114.6h1M274.3 100.0h1M296.9 113.6h1M283.7 143.8h1M279.9 108.8h1M288.5 145.8h1M270.8 150.7h1M277.7 112.9h1M293.8 95.3h1M302.9 134.8h1M280.2 103.5h1M294.3 105.8h1M289.3 102.3h1M287.1 142.6h1M269.4 107.7h1M299.4 120.2h1M285.8 142.0h1M297.3 112.8h1M275.8 112.2h1M296.3 108.2h1M273.1 135.3h1M266.1 117.1h1M273.1 148.8h1M288.1 84.0h1M276.6 119.8h1M274.4 117.7h1M264.1 152.2h1M286.2 92.4h1M304.5 120.4h1M296.3 133.7h1M300.7 130.1h1M304.2 136.3h1M296.1 135.1h1M303.9 97.2h1M292.9 104.2h1M287.4 145.9h1M307.3 118.1h1M293.7 138.7h1M302.9 125.7h1M300.4 130.3h1M280.9 95.0h1M303.0 103.9h1M288.9 98.0h1M277.2 101.1h1M297.7 124.7h1M292.2 100.4h1" stroke="#aaa" stroke-width="1.06" fill="none"/>
<path d="M221.5 107.5 228.2 107.2 241.8 107.2 247.0 107.7 251.2 108.7 253.0 109.4 254.3 110.2 255.4 111.2 256.3 112.5 256.9 114.0 257.3 115.5 257.5 120.2 257.3 125.0 256.9 126.8 256.3 128.0 255.5 129.2 254.4 130.2 253.0 131.2 251.2 131.9 247.2 132.9 241.8 133.4 228.2 133.4 221.5 133.1" fill="#000" fill-opacity="0.04" fill-rule="evenodd" stroke="#000" stroke-opacity="0.5" stroke-width="1.05"/>
<path d="M221.5 108.5 227.8 108.1 240.5 108.1 245.8 108.5 249.8 109.4 251.5 110.1 252.8 110.9 253.8 111.8 254.7 113.0 255.2 114.2 255.6 115.8 255.8 120.2 255.6 124.8 255.2 126.2 254.7 127.5 254.0 128.5 253.0 129.5 251.8 130.3 250.0 131.1 246.2 132.0 241.0 132.4 227.8 132.5 221.5 132.1" fill="#000" fill-opacity="0.05" fill-rule="evenodd" stroke="#000" stroke-opacity="0.5" stroke-width="1.05"/>
<path d="M221.5 109.5 227.5 109.1 239.5 109.1 244.8 109.4 248.5 110.2 251.2 111.6 252.3 112.5 253.0 113.5 253.9 116.0 254.1 120.2 253.9 124.5 253.1 127.0 252.4 128.0 251.3 129.0 248.5 130.4 244.8 131.2 239.5 131.5 227.5 131.5 221.5 131.1" fill="#000" fill-opacity="0.06" fill-rule="evenodd" stroke="#000" stroke-opacity="0.5" stroke-width="1.05"/>
<path d="M221.5 110.6 227.0 110.0 238.0 110.0 243.2 110.2 247.1 111.0 249.7 112.2 250.6 113.0 251.4 114.0 251.9 115.2 252.2 116.5 252.4 120.2 252.2 124.0 252.0 125.2 251.4 126.5 250.7 127.5 249.8 128.3 247.0 129.6 243.2 130.4 238.0 130.6 227.0 130.6 221.5 130.0" fill="#000" fill-opacity="0.07" fill-rule="evenodd" stroke="#000" stroke-opacity="0.5" stroke-width="1.05"/>
<path d="M221.5 111.7 226.3 111.0 235.0 110.9 241.5 111.1 245.6 111.8 248.0 112.8 248.9 113.5 249.7 114.5 250.5 116.8 250.7 120.2 250.5 123.8 249.8 126.0 248.2 127.6 245.8 128.8 241.8 129.5 235.8 129.7 226.5 129.6 223.8 129.3 221.5 128.9" fill="#000" fill-opacity="0.07" fill-rule="evenodd" stroke="#000" stroke-opacity="0.5" stroke-width="1.05"/>
<path d="M221.5 113.0 224.8 112.1 229.2 111.8 239.2 111.9 244.1 112.5 246.5 113.5 248.1 115.0 248.8 117.0 249.0 120.2 248.9 123.5 248.2 125.5 246.7 127.0 244.2 128.1 242.0 128.5 239.2 128.7 229.5 128.8 224.8 128.5 221.5 127.6" fill="#000" fill-opacity="0.07" fill-rule="evenodd" stroke="#000" stroke-opacity="0.5" stroke-width="1.05"/>
<path d="M221.5 114.5 222.5 113.9 224.0 113.4 228.0 112.8 237.8 112.8 242.5 113.2 245.0 114.2 246.4 115.5 247.1 117.2 247.3 120.2 247.2 123.2 246.5 125.0 245.9 125.8 244.9 126.5 242.5 127.3 237.8 127.8 227.8 127.8 224.0 127.2 222.6 126.8 221.5 126.1" fill="#000" fill-opacity="0.07" fill-rule="evenodd" stroke="#000" stroke-opacity="0.5" stroke-width="1.05"/>
<path d="M221.5 117.8 221.9 116.5 222.8 115.4 224.0 114.6 225.8 114.1 230.2 113.7 239.5 113.8 242.7 114.5 244.5 115.6 245.1 116.5 245.5 117.5 245.6 120.2 245.4 123.2 245.0 124.2 244.5 125.0 242.8 126.1 239.8 126.8 230.5 126.9 225.7 126.5 224.1 126.0 222.8 125.2 222.0 124.2 221.5 122.8" fill="#000" fill-opacity="0.07" fill-rule="evenodd" stroke="#000" stroke-opacity="0.5" stroke-width="1.05"/>
<path d="M236.5 126.0 228.2 125.9 226.2 125.5 224.5 124.7 223.5 123.5 223.1 122.0 223.2 118.2 223.4 117.2 223.9 116.5 224.8 115.7 226.2 115.1 228.1 114.8 230.5 114.6 238.9 114.8 241.2 115.2 242.6 116.0 243.5 117.0 243.9 118.5 243.9 122.0 243.4 123.8 242.4 124.8 241.0 125.4 239.2 125.8 236.5 126.0" fill="#000" fill-opacity="0.06" fill-rule="evenodd" stroke="#000" stroke-opacity="0.5" stroke-width="1.05"/>
<path d="M237.5 125.0 229.5 125.0 227.8 124.7 226.2 124.2 225.3 123.2 224.8 122.0 224.8 119.0 225.2 117.4 226.0 116.6 227.0 116.1 230.0 115.6 237.5 115.6 239.5 115.9 240.9 116.5 241.8 117.4 242.2 118.5 242.2 121.2 242.0 122.8 241.5 123.6 240.6 124.2 239.2 124.7 237.5 125.0" fill="#000" fill-opacity="0.05" fill-rule="evenodd" stroke="#000" stroke-opacity="0.5" stroke-width="1.05"/>
<path d="M237.5 124.0 230.8 124.1 229.0 123.9 227.8 123.5 226.9 122.8 226.5 121.8 226.5 119.2 226.8 118.0 227.2 117.5 228.0 117.0 230.4 116.5 236.6 116.5 238.2 116.7 239.2 117.1 240.0 117.8 240.4 118.5 240.5 119.8 240.4 122.0 240.1 122.8 239.6 123.2 238.6 123.8 237.5 124.0" fill="#000" fill-opacity="0.05" fill-rule="evenodd" stroke="#000" stroke-opacity="0.5" stroke-width="1.05"/>
<path d="M221.5 105.1 229.8 104.8 244.0 105.0 250.2 105.6 254.8 106.8 256.8 107.7 258.2 108.7 259.5 109.9 260.4 111.2 261.1 113.0 261.5 114.8 261.7 120.2 261.5 125.8 261.1 127.5 260.4 129.2 259.4 130.8 258.2 131.9 256.8 132.9 254.8 133.8 250.0 135.0 244.2 135.6 230.0 135.8 221.5 135.5M221.5 106.4 228.8 106.1 243.0 106.2 248.5 106.7 253.0 107.8 254.8 108.6 256.2 109.6 257.4 110.8 258.2 112.0 258.9 113.5 259.2 115.2 259.4 120.2 259.2 125.2 258.9 127.0 258.3 128.5 257.5 129.8 256.2 131.0 254.8 132.0 253.0 132.8 248.8 133.9 243.0 134.4 229.0 134.5 221.5 134.2" fill="none" stroke="#000" stroke-opacity="0.5" stroke-width="1.05"/>
<path d="M287.2 137.0 285.8 137.2 284.2 136.6 282.8 135.4 281.3 133.5 280.2 131.5 279.3 129.2 278.9 126.8 278.8 124.2 279.1 121.0 279.7 117.2 280.5 114.5 281.5 112.2 283.0 110.1 284.8 108.5 286.5 107.5 288.2 107.2 289.8 107.5 291.0 108.2 292.1 109.5 293.0 111.0 293.7 112.8 294.2 114.8 294.4 117.0 294.5 119.8 293.7 126.2 292.3 131.0 291.2 133.2 290.0 135.0 288.8 136.2 287.2 137.0" fill="#000" fill-opacity="0.04" fill-rule="evenodd" stroke="#000" stroke-opacity="0.55" stroke-width="1.05"/>
<path d="M286.8 135.8 285.5 135.7 284.2 135.0 282.9 133.8 281.8 132.0 280.9 130.0 280.4 128.0 280.1 125.8 280.1 123.2 280.9 117.2 281.6 115.0 282.5 113.0 283.8 111.2 285.2 109.7 286.8 108.9 288.2 108.6 289.5 108.9 290.5 109.5 291.6 110.8 292.4 112.2 293.0 114.0 293.4 116.0 293.6 120.8 292.9 126.5 292.2 129.0 291.4 131.0 290.5 132.8 289.2 134.3 288.0 135.3 286.8 135.8" fill="#000" fill-opacity="0.05" fill-rule="evenodd" stroke="#000" stroke-opacity="0.55" stroke-width="1.05"/>
<path d="M286.8 134.5 285.5 134.4 284.5 133.8 283.4 132.8 282.4 131.0 281.6 129.0 281.2 127.0 281.0 122.8 281.8 117.5 282.6 115.2 283.4 113.5 284.5 111.9 285.8 110.8 287.0 110.1 288.2 109.9 289.2 110.2 290.2 110.8 291.2 112.0 292.0 113.5 292.5 115.2 292.8 117.2 292.9 121.5 292.2 126.5 290.8 130.5 290.0 132.0 289.0 133.2 288.0 134.1 286.8 134.5" fill="#000" fill-opacity="0.06" fill-rule="evenodd" stroke="#000" stroke-opacity="0.55" stroke-width="1.05"/>
<path d="M287.2 133.3 286.2 133.5 285.2 133.1 284.2 132.3 283.3 131.0 282.6 129.5 282.1 127.8 281.8 125.8 281.8 123.5 282.4 118.5 283.7 114.8 284.6 113.2 285.8 112.0 286.8 111.3 288.0 111.0 289.0 111.2 289.8 111.7 290.5 112.5 291.3 113.8 292.1 116.8 292.4 120.8 291.9 125.2 290.8 129.0 289.2 131.8 288.2 132.8 287.2 133.3" fill="#000" fill-opacity="0.08" fill-rule="evenodd" stroke="#000" stroke-opacity="0.55" stroke-width="1.05"/>
<path d="M287.2 132.3 286.2 132.4 285.5 132.1 284.5 131.3 283.8 130.2 283.1 128.8 282.7 127.0 282.4 123.2 283.0 119.0 284.1 115.5 285.0 114.1 286.0 113.0 287.0 112.4 288.0 112.2 288.8 112.3 289.5 112.8 290.2 113.6 290.9 114.8 291.7 117.8 291.8 121.2 291.4 125.0 290.4 128.5 289.0 130.9 288.2 131.7 287.2 132.3" fill="#000" fill-opacity="0.1" fill-rule="evenodd" stroke="#000" stroke-opacity="0.55" stroke-width="1.05"/>
<path d="M287.0 131.3 286.2 131.3 285.5 130.9 284.8 130.2 284.0 129.0 283.2 126.2 283.1 122.8 283.6 119.0 284.7 116.0 285.5 114.8 286.2 114.0 287.0 113.5 288.0 113.3 288.8 113.5 289.4 114.0 290.5 115.8 291.2 118.5 291.2 121.8 290.8 125.2 289.8 128.2 288.5 130.3 287.8 131.0 287.0 131.3" fill="#000" fill-opacity="0.12" fill-rule="evenodd" stroke="#000" stroke-opacity="0.55" stroke-width="1.05"/>
<path d="M287.2 130.3 286.5 130.4 285.8 130.1 285.1 129.5 284.5 128.6 283.7 126.0 283.5 123.0 284.0 119.5 285.0 116.7 285.8 115.5 286.5 114.7 287.2 114.3 288.0 114.3 288.8 114.5 289.2 114.9 290.2 116.5 290.7 118.8 290.8 121.8 290.5 124.8 289.6 127.5 288.5 129.4 287.2 130.3" fill="#000" fill-opacity="0.15" fill-rule="evenodd" stroke="#000" stroke-opacity="0.55" stroke-width="1.05"/>
<path d="M287.5 129.3 286.8 129.5 286.2 129.4 285.5 128.9 285.0 128.2 284.2 126.0 284.0 123.2 284.4 120.0 285.2 117.5 286.5 115.8 287.8 115.2 288.8 115.5 289.7 117.0 290.3 119.0 290.4 121.2 290.2 124.0 289.6 126.2 288.6 128.2 287.5 129.3" fill="#000" fill-opacity="0.18" fill-rule="evenodd" stroke="#000" stroke-opacity="0.55" stroke-width="1.05"/>
<path d="M287.2 128.5 286.2 128.4 285.2 127.2 284.6 125.2 284.5 123.0 284.8 120.5 285.5 118.2 286.5 116.7 287.0 116.3 287.8 116.1 288.8 116.6 289.4 117.8 289.9 119.5 290.0 121.8 289.7 124.2 289.1 126.2 288.2 127.7 287.2 128.5" fill="#000" fill-opacity="0.2" fill-rule="evenodd" stroke="#000" stroke-opacity="0.55" stroke-width="1.05"/>
<path d="M287.2 127.6 286.8 127.7 286.2 127.5 285.5 126.5 285.0 124.8 284.9 122.8 285.2 120.5 285.8 118.8 286.8 117.5 287.8 117.1 288.5 117.5 289.1 118.5 289.5 120.0 289.6 122.0 289.3 124.0 288.8 125.8 288.0 127.1 287.2 127.6" fill="#000" fill-opacity="0.2" fill-rule="evenodd" stroke="#000" stroke-opacity="0.55" stroke-width="1.05"/>
<path d="M287.5 126.6 286.8 126.7 286.0 126.1 285.5 124.8 285.3 123.2 285.5 121.3 286.0 119.6 286.8 118.4 287.5 118.0 288.2 118.3 288.8 119.1 289.1 120.2 289.2 121.8 288.7 124.8 288.2 125.8 287.5 126.6" fill="#000" fill-opacity="0.1" fill-rule="evenodd" stroke="#000" stroke-opacity="0.55" stroke-width="1.05"/>
<path d="M287.2 125.6 286.8 125.6 286.2 125.0 285.9 124.0 285.9 122.8 286.0 121.5 286.4 120.2 287.0 119.4 287.5 119.2 288.0 119.4 288.4 120.0 288.7 122.2 288.2 124.3 287.8 125.2 287.2 125.6" fill="#fff" fill-opacity="0.5" fill-rule="evenodd" stroke="#000" stroke-opacity="0.55" stroke-width="1.05"/>
<path d="M286.2 140.5 284.5 140.3 282.5 139.1 279.9 136.8 278.1 134.5 277.1 132.5 276.4 130.0 276.1 127.2 276.1 124.2 276.6 119.5 277.4 115.5 278.4 112.2 279.7 109.5 281.4 107.2 283.5 105.4 286.0 104.1 288.5 103.7 290.2 104.1 292.0 105.1 293.5 106.5 294.9 108.5 295.8 110.8 296.4 113.2 296.7 116.0 296.6 119.2 296.1 124.0 295.4 127.8 294.6 130.8 293.4 133.8 291.8 136.5 290.0 138.6 288.2 139.9 286.2 140.5M286.5 138.8 285.0 138.6 283.2 137.7 281.2 135.8 279.4 133.2 278.4 131.2 277.8 129.2 277.5 126.8 277.5 123.8 278.0 119.2 278.7 116.0 279.6 113.0 280.8 110.8 282.5 108.5 284.5 106.8 286.5 105.8 288.5 105.5 290.0 105.9 291.5 106.8 292.9 108.2 294.0 110.0 294.8 112.2 295.3 114.5 295.5 117.0 295.4 120.0 294.9 124.5 294.4 127.5 293.6 130.2 292.6 132.8 291.4 135.0 289.8 137.0 288.2 138.2 286.5 138.8M287.2 124.3 286.7 124.0 286.5 122.5 286.8 121.2 287.0 120.8 287.5 120.5 288.0 121.2 288.1 122.5 287.8 123.8 287.2 124.3" fill="none" stroke="#000" stroke-opacity="0.55" stroke-width="1.05"/>
<rect x="234.0" y="105.5" width="4.6" height="30.0" rx="1.5" fill="#444" stroke="#000" stroke-width="1.7"/><line x1="236.3" y1="108.5" x2="236.3" y2="132.5" stroke="#999" stroke-width="1.05"/>
</g>
<clipPath id="a4"><rect x="327" y="46.5" width="93.5" height="93.0"/></clipPath>
<g clip-path="url(#a4)">

<path d="M357.5 93.7h1M340.7 90.0h1M351.1 85.2h1M388.4 82.3h1M368.3 100.1h1M394.2 124.7h1M364.7 108.1h1M389.5 96.1h1M355.1 99.6h1M343.4 99.7h1M373.3 90.0h1M345.4 86.4h1M387.8 84.0h1M380.5 93.6h1M371.6 96.0h1M361.3 60.6h1M384.3 100.9h1M372.1 97.0h1M355.9 87.5h1M341.1 89.0h1M389.0 81.0h1M314.6 101.4h1M350.1 84.2h1M327.0 95.1h1M350.7 76.8h1M354.0 81.3h1M361.7 103.9h1M402.7 92.0h1M390.7 85.4h1M367.4 98.4h1M369.7 101.1h1M357.9 113.6h1M360.3 106.8h1M340.5 78.5h1M367.7 91.8h1M414.5 78.7h1M374.4 85.6h1M383.5 83.0h1M342.1 98.9h1M358.8 93.1h1M397.2 87.4h1M392.3 121.3h1M385.4 85.6h1M387.3 90.7h1M370.0 94.9h1M382.1 99.6h1M359.2 81.4h1M356.5 100.1h1M331.8 89.6h1M393.7 83.9h1M403.2 86.5h1M355.9 95.0h1M381.1 99.4h1M369.4 85.7h1M346.3 96.3h1M373.7 75.0h1M377.0 90.6h1M386.9 108.7h1M359.8 86.2h1M369.3 91.4h1M354.2 95.3h1M386.9 106.8h1M364.6 100.7h1M384.0 93.3h1M352.9 81.7h1M369.0 98.9h1M348.4 55.8h1M351.6 101.3h1M389.0 85.1h1M362.9 104.3h1M364.9 94.6h1M350.2 86.6h1M405.8 68.1h1M351.0 95.7h1M358.7 88.6h1M410.6 94.0h1M402.2 82.9h1M370.0 67.8h1M340.9 97.4h1M386.6 85.8h1M361.4 92.1h1M353.2 84.1h1M356.5 90.8h1M363.1 108.3h1M350.7 78.4h1M345.3 78.3h1M382.1 90.2h1M343.6 87.3h1M364.7 91.7h1M354.2 79.5h1M363.3 88.0h1M361.2 81.4h1M354.0 99.7h1M370.0 98.2h1M389.6 87.9h1M394.0 97.3h1M364.1 107.6h1M361.0 95.7h1M377.8 88.9h1M386.8 91.2h1M357.3 98.7h1M351.4 72.8h1M345.1 71.2h1M369.3 104.8h1M359.3 110.9h1M358.2 98.3h1M352.6 86.5h1M377.0 71.9h1M355.5 82.8h1M363.1 63.5h1M380.7 99.6h1M361.8 102.0h1M355.2 70.2h1M355.1 75.9h1M397.8 100.0h1M368.6 67.7h1M361.9 85.6h1M393.8 96.7h1M350.6 90.0h1M370.5 100.5h1M374.0 95.8h1M363.5 87.6h1M360.8 100.6h1M368.0 94.2h1M394.7 111.4h1M375.9 75.2h1M352.6 92.1h1M370.2 85.9h1M383.7 91.9h1M400.0 100.9h1M368.3 65.6h1M392.0 111.4h1M382.1 102.8h1M367.3 102.6h1M351.2 96.3h1M366.1 108.5h1M383.3 101.0h1M343.1 70.3h1M332.6 86.0h1M374.6 91.7h1M333.9 90.2h1M338.5 89.0h1M360.2 103.7h1M359.5 79.7h1M365.4 84.8h1M367.5 81.4h1M374.7 94.8h1M362.1 101.4h1M347.7 82.6h1M307.8 100.7h1M388.7 87.6h1M376.3 64.0h1M363.4 95.0h1M373.3 90.1h1M362.4 79.8h1M336.7 83.1h1M384.1 103.0h1M335.4 87.6h1M398.7 96.0h1M347.5 87.6h1M367.2 89.2h1M384.6 102.0h1M363.6 109.6h1M335.5 84.1h1M353.7 78.9h1M362.5 79.1h1M391.9 120.9h1M369.7 88.2h1M368.6 90.0h1M356.1 74.9h1M376.6 77.3h1M363.9 83.7h1M394.3 100.3h1M340.0 92.3h1M366.3 94.7h1M406.4 103.0h1M336.4 98.4h1M367.5 106.2h1M396.8 83.7h1M339.3 94.7h1M364.2 88.0h1M359.3 90.0h1M357.8 84.8h1M350.5 95.9h1M364.6 99.4h1M334.8 100.0h1M348.9 90.7h1M399.6 63.6h1M330.4 91.3h1M363.8 112.5h1M359.1 81.3h1M350.5 86.0h1M386.7 96.2h1M363.8 95.6h1M345.8 93.2h1M385.9 93.8h1M341.8 63.1h1M332.0 88.5h1M380.1 79.6h1M359.8 99.0h1M333.3 89.4h1M333.8 95.8h1M346.1 77.1h1M322.9 88.8h1M432.6 90.3h1M370.7 74.0h1M357.4 105.7h1M361.2 93.8h1M368.2 103.5h1M375.1 82.6h1M352.6 87.8h1M363.6 83.4h1M358.5 118.9h1M374.1 70.7h1M381.8 101.5h1M385.1 99.1h1M353.6 99.4h1M377.1 80.8h1M358.2 102.7h1M359.2 70.9h1M371.3 93.8h1M390.3 84.8h1M339.5 88.3h1M386.4 103.6h1M354.6 71.6h1M338.1 85.3h1M361.5 116.9h1M351.7 97.7h1M399.6 122.5h1M345.2 78.1h1M387.1 107.8h1M348.1 94.5h1M341.9 86.3h1M385.5 92.0h1M363.2 84.9h1M376.4 92.2h1M369.2 84.2h1M363.3 92.1h1M392.2 94.7h1M364.6 110.6h1M382.0 93.9h1M341.4 84.3h1M360.8 106.0h1M383.5 90.0h1M355.5 81.4h1M321.8 78.0h1M376.4 93.6h1M359.1 118.1h1M367.1 81.2h1M358.2 80.1h1M387.1 91.5h1M371.2 92.4h1M363.2 91.9h1M355.3 80.5h1M361.9 109.6h1M355.0 77.9h1M384.5 105.9h1M343.9 79.8h1M370.2 71.0h1M356.8 100.1h1M369.2 86.1h1M336.6 82.7h1M334.7 83.1h1M372.9 95.7h1M392.7 88.0h1M356.7 86.5h1M354.2 85.9h1M359.6 87.4h1M401.7 91.1h1M369.8 78.7h1M367.6 82.1h1M354.4 63.4h1M375.6 94.6h1M391.8 103.2h1M369.6 88.0h1M392.1 84.2h1M365.4 95.5h1M401.5 111.5h1M344.8 98.6h1M362.9 83.8h1M371.2 100.2h1M330.8 89.4h1M363.3 92.0h1M350.7 92.6h1M359.6 86.9h1M350.9 84.5h1M356.2 79.9h1M356.1 101.0h1M359.9 72.7h1M385.4 100.3h1M323.8 81.2h1M372.8 93.4h1M364.6 102.6h1M330.7 81.3h1M357.0 76.6h1M384.3 89.5h1M365.2 98.2h1M372.3 89.7h1M387.4 81.7h1M358.9 105.0h1M382.6 79.3h1M340.5 74.8h1M348.2 96.7h1M394.2 125.8h1M392.4 88.1h1M384.1 94.0h1M335.6 80.8h1M361.0 86.6h1M347.8 79.2h1M403.7 99.2h1M338.8 85.6h1M340.2 84.1h1M372.2 74.6h1M359.7 92.7h1M371.6 82.3h1M366.3 94.9h1M328.5 91.4h1M340.8 99.8h1M398.3 92.2h1M402.0 110.2h1M394.9 111.2h1M387.9 78.2h1M367.3 90.4h1M396.5 112.2h1M357.1 103.8h1M410.5 95.7h1M378.0 94.2h1M358.7 68.4h1M355.2 83.2h1M361.6 129.3h1M361.7 107.1h1M389.3 99.1h1M372.6 143.7h1M378.6 140.5h1M398.0 101.2h1M363.8 108.0h1M392.5 102.0h1M399.8 112.0h1M389.8 114.5h1M361.4 120.0h1M359.3 100.6h1M363.8 100.3h1M390.4 125.6h1M403.3 126.6h1M373.4 145.8h1M383.4 86.6h1M396.0 133.0h1M383.7 101.1h1M365.0 92.3h1M385.5 93.2h1M376.2 145.0h1M383.5 142.6h1M372.8 139.0h1M365.5 104.9h1M385.7 91.2h1M396.1 123.7h1M359.6 98.5h1M361.0 118.3h1M385.7 140.4h1M360.6 114.2h1M390.2 118.2h1M384.5 161.5h1M395.9 130.8h1M394.1 130.6h1M369.7 102.0h1M383.4 142.0h1M379.8 144.5h1M380.7 151.4h1M357.3 133.7h1M382.9 104.0h1M367.3 100.8h1M386.2 135.6h1M360.6 112.5h1M365.0 111.2h1M384.4 96.6h1M401.0 115.5h1M361.4 119.6h1M388.8 115.5h1M395.2 64.1h1M391.1 74.4h1M380.2 57.7h1M400.8 62.3h1M379.3 61.3h1M392.0 59.4h1M392.4 73.4h1M393.6 64.3h1M369.6 74.4h1M380.4 60.3h1M375.4 67.0h1M389.3 73.9h1M391.9 53.5h1M394.7 61.2h1M368.2 64.0h1M383.3 74.5h1M380.6 73.5h1M387.2 53.3h1" stroke="#aaa" stroke-width="1.06" fill="none"/>
<path d="M345.2 132.8 335.0 133.0 328.5 132.7 326.5 132.4 324.8 131.8 323.4 131.0 322.2 130.0 321.1 128.0 320.4 125.0 320.2 121.5 320.2 113.5 320.4 110.8 320.9 108.5 321.8 106.7 323.0 105.2 324.1 104.5 325.5 103.9 328.8 103.2 332.8 103.0 342.2 103.0 345.8 103.3 348.2 103.8 350.2 104.7 351.8 106.0 352.6 107.2 353.1 108.5 353.7 112.0 353.8 122.2 353.3 126.8 352.3 129.2 350.8 130.9 348.5 132.1 345.2 132.8" fill="#000" fill-opacity="0.04" fill-rule="evenodd" stroke="#000" stroke-opacity="0.5" stroke-width="1.05"/>
<path d="M340.5 131.8 332.0 131.7 328.0 131.3 326.2 130.9 325.0 130.2 323.8 129.3 322.9 128.2 322.1 126.2 321.7 123.5 321.6 116.0 321.7 112.0 322.1 109.8 322.8 108.1 323.7 106.8 325.0 105.7 327.2 104.8 330.5 104.3 343.8 104.4 346.2 104.7 348.2 105.3 349.8 106.2 351.1 107.8 351.7 109.0 352.1 110.5 352.4 114.5 352.3 123.5 352.0 125.8 351.5 127.5 350.0 129.5 348.0 130.8 345.0 131.5 340.5 131.8" fill="#000" fill-opacity="0.05" fill-rule="evenodd" stroke="#000" stroke-opacity="0.5" stroke-width="1.05"/>
<path d="M344.0 130.5 335.0 130.7 329.8 130.5 328.0 130.2 326.5 129.6 325.2 128.9 324.4 128.0 323.4 126.2 322.9 123.8 322.8 113.8 323.0 111.5 323.4 109.8 324.2 108.2 325.2 107.1 327.2 106.1 330.0 105.5 333.5 105.3 341.8 105.3 344.5 105.6 346.8 106.1 348.5 106.9 349.6 108.0 350.6 110.0 351.1 113.0 351.2 121.8 350.8 125.5 350.0 127.5 348.6 129.0 346.6 130.0 344.0 130.5" fill="#000" fill-opacity="0.06" fill-rule="evenodd" stroke="#000" stroke-opacity="0.5" stroke-width="1.05"/>
<path d="M343.0 129.5 334.5 129.6 330.2 129.4 327.5 128.7 326.3 128.0 325.5 127.2 324.6 125.8 324.1 123.5 324.0 114.2 324.2 112.0 324.6 110.5 325.2 109.1 326.3 108.0 328.2 107.0 330.8 106.5 341.5 106.4 344.0 106.6 345.8 107.0 347.4 107.8 348.5 108.8 349.5 110.8 350.0 113.5 350.0 121.5 349.6 125.0 348.8 126.9 347.5 128.2 345.8 129.0 343.0 129.5" fill="#000" fill-opacity="0.07" fill-rule="evenodd" stroke="#000" stroke-opacity="0.5" stroke-width="1.05"/>
<path d="M342.0 128.5 334.2 128.6 330.8 128.4 328.2 127.7 327.2 127.1 326.4 126.2 325.7 124.8 325.3 122.8 325.2 114.2 325.4 112.5 325.8 111.0 326.4 109.8 327.2 108.9 329.0 108.0 331.2 107.6 341.2 107.5 343.5 107.7 345.2 108.1 346.5 108.8 347.6 109.8 348.4 111.5 348.8 114.0 348.8 121.5 348.4 124.5 347.6 126.2 346.2 127.4 344.5 128.1 342.0 128.5" fill="#000" fill-opacity="0.07" fill-rule="evenodd" stroke="#000" stroke-opacity="0.5" stroke-width="1.05"/>
<path d="M340.2 127.5 333.8 127.5 331.0 127.3 328.8 126.5 327.4 125.2 326.8 123.9 326.4 122.0 326.4 114.2 326.6 112.8 327.0 111.4 327.5 110.5 328.5 109.6 330.0 108.9 332.2 108.6 341.2 108.5 343.2 108.8 344.8 109.2 345.8 109.8 346.6 110.8 347.4 112.5 347.6 115.0 347.6 121.5 347.1 124.2 346.2 125.8 344.8 126.8 343.0 127.3 340.2 127.5" fill="#000" fill-opacity="0.07" fill-rule="evenodd" stroke="#000" stroke-opacity="0.5" stroke-width="1.05"/>
<path d="M342.2 126.3 338.8 126.5 332.2 126.3 330.0 125.8 328.7 124.8 328.0 123.6 327.6 122.0 327.5 115.2 328.0 112.5 328.5 111.5 329.2 110.8 330.5 110.0 332.2 109.7 340.0 109.6 343.4 110.0 344.5 110.5 345.3 111.2 346.0 112.5 346.4 114.5 346.5 120.2 346.2 122.8 345.8 124.1 345.0 125.1 343.8 125.9 342.2 126.3" fill="#000" fill-opacity="0.07" fill-rule="evenodd" stroke="#000" stroke-opacity="0.5" stroke-width="1.05"/>
<path d="M341.2 125.3 337.0 125.4 332.8 125.3 331.0 124.8 329.8 124.0 329.2 123.0 328.8 121.5 328.7 116.0 329.0 113.5 329.4 112.5 330.0 111.8 331.2 111.1 332.8 110.7 339.2 110.6 342.5 111.0 343.5 111.4 344.2 112.0 344.9 113.2 345.2 115.0 345.3 120.0 345.1 122.2 344.6 123.5 343.8 124.4 342.6 125.0 341.2 125.3" fill="#000" fill-opacity="0.07" fill-rule="evenodd" stroke="#000" stroke-opacity="0.5" stroke-width="1.05"/>
<path d="M340.5 124.3 333.5 124.2 331.8 123.8 330.7 123.0 330.2 122.2 330.0 121.0 329.9 115.8 330.3 113.8 331.2 112.5 332.2 112.0 333.5 111.7 339.5 111.7 341.8 112.0 342.8 112.5 343.3 113.0 343.8 114.0 344.1 115.5 344.1 120.0 343.9 121.8 343.5 122.8 342.8 123.5 341.8 124.0 340.5 124.3" fill="#000" fill-opacity="0.06" fill-rule="evenodd" stroke="#000" stroke-opacity="0.5" stroke-width="1.05"/>
<path d="M339.5 123.3 334.0 123.2 332.5 122.8 331.8 122.2 331.1 120.5 331.1 116.2 331.4 114.5 332.1 113.5 333.0 113.0 334.2 112.8 339.0 112.7 341.0 113.0 342.2 113.8 342.7 114.8 342.9 116.0 342.9 119.8 342.7 121.2 342.2 122.2 341.6 122.8 339.5 123.3" fill="#000" fill-opacity="0.05" fill-rule="evenodd" stroke="#000" stroke-opacity="0.5" stroke-width="1.05"/>
<path d="M340.0 122.0 338.5 122.2 335.0 122.2 333.8 122.0 332.9 121.5 332.4 120.2 332.3 117.2 332.4 115.5 333.0 114.5 334.5 113.9 337.8 113.8 340.0 114.0 341.1 114.5 341.5 115.2 341.7 116.0 341.7 120.0 341.2 121.3 340.7 121.8 340.0 122.0" fill="#000" fill-opacity="0.04" fill-rule="evenodd" stroke="#000" stroke-opacity="0.5" stroke-width="1.05"/>
<path d="M339.2 121.0 335.2 121.1 334.5 121.0 333.9 120.5 333.5 119.5 333.5 117.0 333.6 116.0 334.0 115.3 335.2 114.9 338.0 114.8 339.4 115.0 340.1 115.5 340.5 116.5 340.5 119.6 340.1 120.5 339.2 121.0" fill="#000" fill-opacity="0.04" fill-rule="evenodd" stroke="#000" stroke-opacity="0.5" stroke-width="1.05"/>
<path d="M345.2 135.5 332.2 135.6 326.5 135.3 324.2 134.8 322.2 134.1 320.8 133.1 319.4 131.8 318.1 129.2 317.4 125.8 317.2 121.2 317.3 111.8 317.6 108.8 318.3 106.2 319.4 104.2 320.9 102.8 322.2 101.9 323.8 101.3 327.5 100.6 332.8 100.4 344.2 100.4 348.0 100.8 350.8 101.5 353.0 102.7 354.6 104.2 355.4 105.5 356.1 107.2 356.7 111.5 356.7 123.8 356.5 126.8 356.0 129.0 355.4 130.5 354.6 131.8 353.7 132.8 352.5 133.7 349.5 134.9 345.2 135.5M345.8 134.0 342.0 134.2 333.8 134.2 327.5 133.9 325.2 133.5 323.5 132.8 322.0 131.9 320.9 130.8 319.7 128.5 319.0 125.5 318.8 121.5 318.9 112.5 319.2 109.5 319.8 107.2 320.7 105.5 322.0 104.1 323.2 103.3 324.8 102.7 328.2 102.0 332.8 101.8 343.2 101.8 346.8 102.1 349.5 102.8 351.5 103.8 353.1 105.2 353.9 106.5 354.5 108.0 355.1 111.8 355.2 122.8 354.6 127.5 353.5 130.2 351.8 132.1 349.2 133.3 345.8 134.0" fill="none" stroke="#000" stroke-opacity="0.5" stroke-width="1.05"/>
<path d="M376.8 134.3 374.8 134.2 372.8 133.6 371.0 132.5 369.4 131.0 368.1 129.0 367.0 126.5 366.4 124.0 366.1 121.2 366.3 119.0 366.7 116.8 367.4 114.8 368.6 112.5 370.1 110.2 374.2 105.2 375.5 104.0 376.8 103.7 377.8 104.0 378.8 105.1 383.9 113.2 385.3 117.0 385.7 119.0 385.9 121.2 385.7 123.8 385.2 126.0 384.4 128.0 383.3 130.0 381.8 131.8 380.2 133.0 378.5 133.8 376.8 134.3" fill="#000" fill-opacity="0.05" fill-rule="evenodd" stroke="#000" stroke-opacity="0.5" stroke-width="1.05"/>
<path d="M377.5 132.5 375.5 132.7 373.8 132.4 372.2 131.6 370.6 130.2 369.3 128.5 368.3 126.5 367.7 124.2 367.4 121.8 367.4 119.5 367.8 117.5 368.5 115.5 369.4 113.5 371.2 111.0 373.8 108.0 375.2 106.7 376.5 106.3 377.5 106.6 378.5 107.5 382.5 113.5 384.0 117.0 384.6 120.5 384.6 122.8 384.2 124.8 383.6 126.5 382.8 128.2 381.8 129.7 380.5 131.0 379.0 131.9 377.5 132.5" fill="#000" fill-opacity="0.06" fill-rule="evenodd" stroke="#000" stroke-opacity="0.5" stroke-width="1.05"/>
<path d="M376.5 131.3 375.0 131.2 373.5 130.8 372.2 130.0 370.9 128.8 369.9 127.2 369.1 125.2 368.6 123.2 368.4 121.2 368.6 119.2 368.9 117.5 369.7 115.5 370.6 113.8 372.0 111.8 373.8 109.8 375.0 108.8 376.2 108.4 377.2 108.7 378.5 109.7 381.5 114.0 383.0 117.5 383.5 121.0 383.4 123.0 383.0 124.8 382.4 126.5 381.5 128.0 380.5 129.2 379.2 130.2 378.0 130.9 376.5 131.3" fill="#000" fill-opacity="0.07" fill-rule="evenodd" stroke="#000" stroke-opacity="0.5" stroke-width="1.05"/>
<path d="M376.5 130.0 375.2 130.0 374.0 129.7 372.8 129.0 371.7 128.0 370.8 126.6 370.0 125.0 369.5 123.2 369.4 121.5 369.4 119.8 369.8 118.0 371.1 114.8 372.3 113.0 373.8 111.4 375.0 110.5 376.0 110.2 377.0 110.3 378.0 111.0 380.4 114.0 382.0 117.2 382.4 119.0 382.6 120.8 382.2 124.0 381.7 125.5 380.9 127.0 380.0 128.1 379.0 129.0 377.8 129.7 376.5 130.0" fill="#000" fill-opacity="0.08" fill-rule="evenodd" stroke="#000" stroke-opacity="0.5" stroke-width="1.05"/>
<path d="M376.5 128.8 375.2 128.8 374.2 128.5 373.2 127.9 372.2 127.0 371.4 125.8 370.8 124.5 370.3 121.5 370.6 118.2 371.9 115.2 373.0 113.8 374.0 112.7 375.0 112.0 376.0 111.7 376.8 111.9 377.8 112.4 379.8 114.9 381.1 117.8 381.6 120.8 381.3 123.5 380.2 126.1 378.5 127.9 376.5 128.8" fill="#000" fill-opacity="0.08" fill-rule="evenodd" stroke="#000" stroke-opacity="0.5" stroke-width="1.05"/>
<path d="M376.2 127.5 375.2 127.5 374.4 127.2 373.5 126.7 372.8 125.9 371.6 123.8 371.2 121.2 371.5 118.5 372.6 116.0 374.2 114.0 375.2 113.4 376.0 113.3 376.8 113.4 377.5 113.8 379.1 115.8 380.3 118.2 380.7 120.8 380.4 123.2 379.5 125.3 378.0 126.9 376.2 127.5" fill="#000" fill-opacity="0.06" fill-rule="evenodd" stroke="#000" stroke-opacity="0.5" stroke-width="1.05"/>
<path d="M376.0 125.0 374.8 124.7 373.8 123.8 373.2 122.5 372.9 120.8 373.2 119.0 373.9 117.5 375.0 116.3 376.0 116.1 377.0 116.5 378.0 117.7 378.6 119.2 378.8 120.8 378.7 122.2 378.0 123.8 377.0 124.7 376.0 125.0" fill="#fff" fill-opacity="0.3" fill-rule="evenodd" stroke="#000" stroke-opacity="0.5" stroke-width="1.05"/>
<path d="M377.0 138.5 374.2 138.5 371.8 137.7 369.2 136.1 367.2 134.0 365.3 131.2 363.9 128.0 363.1 124.5 362.9 121.0 363.1 118.2 363.6 115.5 364.6 112.8 365.7 110.5 367.1 108.5 370.8 104.0 374.5 98.0 376.0 96.6 377.2 96.2 378.5 96.6 379.8 98.0 380.6 99.8 382.8 105.0 385.9 109.8 387.1 112.0 387.9 114.0 388.6 116.5 389.1 121.2 388.9 124.5 388.1 127.8 387.1 130.5 385.6 133.0 383.8 135.1 381.8 136.7 379.5 137.9 377.0 138.5M377.5 136.3 375.0 136.4 372.8 135.9 370.5 134.6 368.5 132.8 366.9 130.5 365.6 127.8 364.8 124.8 364.5 121.5 364.6 119.0 365.1 116.5 365.9 114.0 366.8 112.0 368.1 110.0 371.2 106.1 374.5 101.5 375.8 100.3 377.0 99.9 378.2 100.4 379.2 101.5 382.0 107.0 385.6 112.8 386.9 116.5 387.3 118.8 387.5 121.0 387.4 123.5 386.8 126.2 385.9 129.0 384.6 131.2 383.2 133.0 381.5 134.5 379.5 135.7 377.5 136.3M376.2 126.3 374.8 126.1 373.4 125.0 372.4 123.2 372.1 121.0 372.4 118.8 373.2 116.7 374.5 115.2 375.2 114.8 376.0 114.7 377.2 115.2 378.5 116.6 379.4 118.5 379.8 120.8 379.5 122.8 378.8 124.5 377.6 125.8 376.2 126.3" fill="none" stroke="#000" stroke-opacity="0.5" stroke-width="1.05"/>
<path d="M384.2 71.3 383.0 71.3 381.8 70.9 380.7 70.2 379.9 69.2 379.4 68.0 379.2 66.5 379.3 65.0 379.8 63.5 380.5 62.0 381.6 60.5 382.8 59.4 384.2 58.3 385.8 57.7 387.0 57.4 388.5 57.3 389.8 57.6 391.3 58.8 392.2 60.5 392.4 62.8 391.9 65.0 390.6 67.2 388.8 69.3 386.5 70.7 384.2 71.3M385.2 67.8 383.8 67.6 382.8 66.8 382.5 65.5 382.8 64.0 383.6 62.5 385.0 61.3 386.5 60.8 387.8 61.0 388.5 61.5 389.0 62.2 389.1 63.2 388.9 64.5 388.4 65.5 387.5 66.6 386.5 67.3 385.2 67.8" fill="none" stroke="#000" stroke-opacity="0.65" stroke-width="1.05"/>
<rect x="327.3" y="104" width="3.6" height="30" rx="1.5" fill="#444" stroke="#000" stroke-width="1.7"/><line x1="329.1" y1="107" x2="329.1" y2="131" stroke="#999" stroke-width="1.05"/>
</g>
<clipPath id="b1"><rect x="44.5" y="190.5" width="96.0" height="94.69999999999999"/></clipPath>
<g clip-path="url(#b1)">

<path d="M74.0 247.3h1M97.1 229.2h1M86.6 195.4h1M92.6 215.6h1M108.0 221.4h1M105.1 278.6h1M78.5 246.4h1M76.1 277.4h1M115.0 269.1h1M110.8 229.2h1M95.4 225.2h1M89.6 288.8h1M79.0 223.3h1M73.3 251.9h1M104.3 223.9h1M95.2 212.7h1M94.5 206.2h1M75.3 249.1h1M95.0 221.0h1" stroke="#bbb" stroke-width="1.06" fill="none"/>
<path d="M91.0 277.8 88.5 277.9 86.2 277.5 84.0 276.7 82.0 275.6 80.3 274.0 78.9 272.2 77.8 270.0 77.3 267.8 77.2 264.8 77.8 262.0 79.2 259.2 82.2 255.2 82.7 254.0 82.7 252.8 82.0 249.5 80.8 246.0 77.3 240.8 76.1 238.2 75.5 235.2 75.5 232.5 76.3 229.5 77.9 227.0 80.0 225.2 81.2 224.5 82.8 224.1 84.5 224.0 86.2 224.4 88.0 225.2 89.7 226.5 90.7 227.8 91.6 229.2 93.2 234.1 94.0 235.3 94.5 235.4 95.2 235.2 98.8 233.0 100.5 232.2 102.0 231.8 103.5 231.8 105.2 232.4 106.5 233.4 107.5 235.0 108.1 237.0 108.1 239.8 107.6 242.8 106.6 245.5 104.6 249.8 104.1 251.5 104.0 253.2 104.7 259.5 104.7 263.5 104.1 267.8 102.9 271.8 101.2 274.8 100.0 276.0 99.0 276.6 97.0 277.3 91.0 277.8" fill="#000" fill-opacity="0.02" fill-rule="evenodd" stroke="#000" stroke-opacity="0.45" stroke-width="1.05"/>
<path d="M91.5 276.0 89.2 276.2 87.2 276.0 85.2 275.5 83.5 274.6 81.9 273.2 80.6 271.8 79.5 269.8 79.0 267.8 78.9 265.0 79.5 262.2 80.9 259.8 83.9 256.0 84.4 254.8 84.5 253.5 84.0 251.0 82.2 245.7 81.2 244.0 78.4 240.5 77.1 238.0 76.5 235.8 76.4 233.2 77.1 230.2 78.4 228.0 80.5 226.2 82.8 225.3 84.5 225.2 86.2 225.6 88.0 226.5 89.4 227.8 90.3 229.0 91.0 230.5 91.6 232.2 92.5 236.2 93.2 237.3 94.0 237.4 94.8 237.1 98.2 234.6 99.8 233.8 101.0 233.3 102.5 233.1 104.0 233.4 105.5 234.4 106.4 235.8 107.0 237.5 107.1 240.0 106.6 242.8 105.6 245.5 103.5 249.8 103.0 251.5 103.0 253.2 103.7 259.0 103.8 262.5 103.3 266.5 102.3 270.2 100.7 273.0 99.8 274.1 98.8 274.8 97.0 275.4 91.5 276.0" fill="#000" fill-opacity="0.04" fill-rule="evenodd" stroke="#000" stroke-opacity="0.45" stroke-width="1.05"/>
<path d="M90.8 274.5 89.0 274.6 87.2 274.4 85.5 273.9 84.0 273.0 82.8 271.9 81.7 270.5 80.9 269.0 80.5 267.2 80.5 264.8 81.1 262.5 82.5 260.2 85.6 256.8 86.1 255.5 86.2 254.0 85.8 252.0 83.8 245.5 82.7 243.8 79.8 240.6 78.5 238.8 77.5 236.2 77.3 233.5 77.8 231.0 79.1 228.8 80.8 227.2 83.0 226.3 84.8 226.3 86.2 226.7 87.8 227.5 89.2 229.0 90.1 230.5 90.7 232.2 91.6 238.0 92.0 238.8 92.5 239.2 93.2 239.3 94.0 239.0 98.8 235.4 100.2 234.7 101.8 234.4 103.2 234.5 104.5 235.2 105.5 236.5 106.1 238.2 106.1 240.8 105.6 243.2 104.7 245.5 102.6 249.5 102.1 251.5 102.0 253.2 102.8 259.0 102.9 262.0 102.5 266.0 101.5 269.2 100.1 271.8 98.2 273.2 96.8 273.7 90.8 274.5" fill="#000" fill-opacity="0.05" fill-rule="evenodd" stroke="#000" stroke-opacity="0.45" stroke-width="1.05"/>
<path d="M91.2 272.8 88.2 272.9 86.8 272.6 85.5 272.0 84.2 271.1 83.3 270.0 82.6 268.8 82.2 267.2 82.1 265.0 82.8 262.8 84.2 260.8 87.6 257.5 88.2 256.5 88.3 255.5 88.0 253.8 85.2 244.2 84.2 243.0 81.5 240.9 80.1 239.5 79.0 237.8 78.3 235.8 78.2 234.2 78.3 232.8 79.2 230.2 80.8 228.4 81.8 227.8 83.0 227.3 84.8 227.3 86.2 227.8 87.8 228.8 88.9 230.2 89.7 232.0 90.1 233.8 90.2 239.7 90.5 240.5 91.2 241.2 92.2 241.4 93.5 241.0 98.2 236.9 99.8 236.0 101.0 235.6 102.5 235.7 103.7 236.2 104.5 237.2 105.1 238.8 105.2 241.0 104.6 243.5 103.7 245.8 101.6 249.5 101.0 251.5 101.0 253.2 101.8 258.2 102.0 261.5 101.7 265.0 100.8 268.0 99.5 270.2 98.0 271.5 96.8 271.9 91.2 272.8" fill="#000" fill-opacity="0.06" fill-rule="evenodd" stroke="#000" stroke-opacity="0.45" stroke-width="1.05"/>
<path d="M90.8 279.8 88.0 279.8 85.2 279.3 82.8 278.3 80.5 276.9 78.5 275.0 77.1 273.0 75.9 270.5 75.3 268.0 75.2 264.8 75.9 261.5 77.4 258.5 80.2 254.5 80.6 253.5 80.8 252.2 80.3 249.8 79.3 246.8 75.9 240.8 74.9 238.2 74.3 235.2 74.4 232.0 75.3 228.8 76.1 227.2 77.3 225.8 78.5 224.6 80.0 223.6 81.5 223.0 83.0 222.7 84.8 222.7 86.5 223.0 88.2 223.8 89.8 224.8 91.9 227.2 92.8 229.0 94.2 232.4 95.0 233.2 96.2 233.0 99.5 231.1 101.2 230.5 103.0 230.2 104.8 230.3 106.5 231.1 107.9 232.5 108.8 234.2 109.3 236.5 109.4 239.2 108.9 242.2 107.9 245.2 105.8 249.8 105.3 251.5 105.2 253.5 105.9 260.0 105.8 264.0 105.1 269.0 103.9 273.0 102.9 275.0 101.8 276.7 100.5 278.0 99.2 278.8 97.0 279.5 90.8 279.8" fill="none" stroke="#000" stroke-opacity="0.45" stroke-width="1.05"/>
<path d="M84.5 241.0 83.2 241.0 82.2 240.7 81.2 240.2 80.2 239.4 78.8 237.2 78.3 234.8 78.6 232.2 79.7 230.0 81.5 228.5 82.5 228.0 83.8 227.8 85.0 227.9 86.0 228.1 87.0 228.6 88.0 229.5 89.3 231.5 89.9 234.0 89.6 236.5 88.5 238.8 86.8 240.3 85.5 240.8 84.5 241.0" fill="#000" fill-opacity="0.06" fill-rule="evenodd" stroke="#000" stroke-opacity="0.6" stroke-width="1.05"/>
<path d="M85.0 240.3 84.0 240.4 82.8 240.2 81.0 239.2 79.6 237.5 78.9 235.2 79.1 232.8 79.9 230.8 81.5 229.2 83.5 228.5 85.5 228.6 87.2 229.6 88.6 231.2 89.3 233.5 89.2 235.8 88.4 237.8 87.0 239.4 85.0 240.3" fill="#000" fill-opacity="0.08" fill-rule="evenodd" stroke="#000" stroke-opacity="0.6" stroke-width="1.05"/>
<path d="M84.2 239.8 82.5 239.5 80.8 238.2 79.8 236.5 79.4 234.5 79.7 232.5 80.6 230.8 82.2 229.5 84.0 229.0 85.8 229.4 87.3 230.5 88.4 232.2 88.8 234.2 88.5 236.2 87.6 238.0 86.0 239.3 84.2 239.8" fill="#000" fill-opacity="0.1" fill-rule="evenodd" stroke="#000" stroke-opacity="0.6" stroke-width="1.05"/>
<path d="M85.2 239.1 83.5 239.2 82.0 238.6 80.7 237.2 80.0 235.5 79.9 233.5 80.5 231.8 81.8 230.4 83.2 229.7 85.0 229.7 86.5 230.4 87.7 231.8 88.2 233.2 88.3 235.0 87.8 236.8 86.8 238.2 85.2 239.1" fill="#000" fill-opacity="0.12" fill-rule="evenodd" stroke="#000" stroke-opacity="0.6" stroke-width="1.05"/>
<path d="M84.2 238.8 82.8 238.5 81.5 237.6 80.6 236.2 80.3 234.5 80.5 233.0 81.2 231.5 82.5 230.4 84.0 230.0 85.5 230.3 86.8 231.2 87.6 232.5 87.9 234.2 87.7 236.0 87.0 237.3 85.8 238.4 84.2 238.8" fill="#000" fill-opacity="0.12" fill-rule="evenodd" stroke="#000" stroke-opacity="0.6" stroke-width="1.05"/>
<path d="M84.5 238.3 83.2 238.2 82.0 237.5 81.1 236.2 80.7 234.8 80.8 233.2 81.4 232.0 82.5 230.9 83.8 230.5 85.0 230.6 86.2 231.3 87.1 232.5 87.5 234.0 87.4 235.5 86.9 236.8 85.8 237.8 84.5 238.3" fill="#000" fill-opacity="0.12" fill-rule="evenodd" stroke="#000" stroke-opacity="0.6" stroke-width="1.05"/>
<path d="M84.8 237.8 83.5 237.8 82.4 237.2 81.5 236.2 81.1 235.0 81.2 233.5 81.7 232.2 82.8 231.3 83.8 231.0 85.0 231.1 86.0 231.7 86.6 232.5 87.1 233.8 87.1 235.0 86.7 236.2 85.8 237.2 84.8 237.8" fill="#000" fill-opacity="0.1" fill-rule="evenodd" stroke="#000" stroke-opacity="0.6" stroke-width="1.05"/>
<path d="M84.8 237.3 83.8 237.4 82.8 237.0 82.0 236.2 81.5 235.0 81.5 233.8 81.9 232.8 82.8 231.8 83.8 231.4 84.8 231.5 85.7 232.0 86.3 232.8 86.7 233.8 86.7 235.0 86.3 236.0 85.7 236.8 84.8 237.3" fill="#000" fill-opacity="0.05" fill-rule="evenodd" stroke="#000" stroke-opacity="0.6" stroke-width="1.05"/>
<path d="M84.8 236.8 83.8 236.9 83.0 236.6 82.4 236.0 81.9 235.0 81.9 234.0 82.3 233.0 82.9 232.2 83.8 231.9 84.5 231.9 85.3 232.2 85.9 233.0 86.2 233.8 86.3 234.8 86.0 235.7 85.5 236.4 84.8 236.8" fill="#fff" fill-opacity="0.4" fill-rule="evenodd" stroke="#000" stroke-opacity="0.6" stroke-width="1.05"/>
<path d="M84.8 236.3 84.0 236.4 83.2 236.1 82.8 235.7 82.4 235.0 82.4 234.2 82.5 233.5 83.0 232.9 83.8 232.4 84.5 232.5 85.0 232.7 85.8 233.8 85.8 234.5 85.7 235.2 85.2 235.9 84.8 236.3" fill="#fff" fill-opacity="0.4" fill-rule="evenodd" stroke="#000" stroke-opacity="0.6" stroke-width="1.05"/>
<path d="M98.5 252.0 97.2 252.0 96.2 251.7 95.5 251.0 94.7 249.8 94.3 248.5 94.2 246.8 94.4 245.0 94.9 243.0 95.7 241.0 96.7 239.2 99.0 236.5 100.2 235.6 101.8 234.9 103.0 234.7 104.0 234.9 104.8 235.3 105.5 236.0 106.4 238.0 106.5 240.8 105.9 243.8 104.6 246.8 102.9 249.2 100.8 251.1 98.5 252.0" fill="#000" fill-opacity="0.06" fill-rule="evenodd" stroke="#000" stroke-opacity="0.6" stroke-width="1.05"/>
<path d="M99.2 251.0 98.0 251.2 97.0 251.0 96.2 250.5 95.4 249.5 95.0 248.2 94.8 246.8 95.3 243.5 96.7 240.2 98.8 237.6 100.0 236.5 101.2 235.9 102.5 235.6 103.5 235.7 104.8 236.5 105.7 238.2 106.0 240.5 105.6 243.0 104.7 245.5 103.2 248.0 101.2 249.9 99.2 251.0" fill="#000" fill-opacity="0.08" fill-rule="evenodd" stroke="#000" stroke-opacity="0.6" stroke-width="1.05"/>
<path d="M99.2 250.3 98.2 250.4 97.2 250.2 96.5 249.7 95.9 248.8 95.5 247.8 95.4 246.2 95.9 243.2 97.1 240.5 99.1 238.0 100.2 237.1 101.2 236.6 102.2 236.4 103.2 236.5 104.5 237.4 105.3 239.0 105.4 241.0 104.9 243.5 103.9 246.0 102.7 247.8 101.0 249.4 99.2 250.3" fill="#000" fill-opacity="0.1" fill-rule="evenodd" stroke="#000" stroke-opacity="0.6" stroke-width="1.05"/>
<path d="M99.5 249.6 98.5 249.7 97.8 249.6 97.0 249.2 96.3 248.2 95.9 246.0 96.3 243.2 97.6 240.5 99.2 238.5 101.2 237.2 102.2 237.1 103.0 237.2 104.0 237.8 104.7 239.2 104.9 241.0 104.6 243.2 103.7 245.5 102.5 247.2 101.0 248.8 99.5 249.6" fill="#000" fill-opacity="0.12" fill-rule="evenodd" stroke="#000" stroke-opacity="0.6" stroke-width="1.05"/>
<path d="M99.5 249.0 98.0 249.0 97.2 248.5 96.8 247.8 96.3 246.0 96.6 243.5 97.7 241.0 99.2 239.1 101.0 237.9 102.0 237.7 102.8 237.8 103.8 238.5 104.3 239.8 104.5 241.5 104.2 243.2 103.4 245.2 102.2 247.0 101.0 248.2 99.5 249.0" fill="#000" fill-opacity="0.12" fill-rule="evenodd" stroke="#000" stroke-opacity="0.6" stroke-width="1.05"/>
<path d="M99.0 248.5 97.8 248.1 97.0 247.0 96.8 245.2 97.2 243.0 98.2 241.0 99.5 239.4 101.0 238.4 101.8 238.3 102.5 238.4 103.4 239.0 103.9 240.2 104.0 241.8 103.6 243.8 102.8 245.5 101.7 247.0 100.2 248.2 99.0 248.5" fill="#000" fill-opacity="0.12" fill-rule="evenodd" stroke="#000" stroke-opacity="0.6" stroke-width="1.05"/>
<path d="M99.8 247.8 98.5 247.8 97.6 247.0 97.2 245.5 97.4 243.5 98.3 241.5 99.5 240.0 101.0 239.0 102.2 239.0 103.0 239.5 103.5 240.5 103.6 241.8 103.4 243.2 102.8 244.8 101.8 246.2 100.8 247.3 99.8 247.8" fill="#000" fill-opacity="0.1" fill-rule="evenodd" stroke="#000" stroke-opacity="0.6" stroke-width="1.05"/>
<path d="M99.5 247.3 98.5 247.1 97.8 246.2 97.6 245.0 97.9 243.2 98.7 241.5 99.8 240.3 101.0 239.6 102.0 239.6 102.8 240.1 103.1 241.0 103.2 242.2 102.9 243.5 102.4 244.8 101.5 246.0 100.5 246.9 99.5 247.3" fill="#000" fill-opacity="0.05" fill-rule="evenodd" stroke="#000" stroke-opacity="0.6" stroke-width="1.05"/>
<path d="M100.0 246.6 99.0 246.6 98.3 246.0 98.1 245.0 98.2 243.5 98.9 242.0 99.8 240.9 100.8 240.2 101.8 240.2 102.3 240.5 102.7 241.2 102.7 242.2 102.6 243.2 101.5 245.4 100.8 246.2 100.0 246.6" fill="#fff" fill-opacity="0.4" fill-rule="evenodd" stroke="#000" stroke-opacity="0.6" stroke-width="1.05"/>
<path d="M99.8 246.0 99.0 245.8 98.7 245.2 98.6 244.2 98.8 243.2 99.2 242.2 100.0 241.3 100.8 240.9 101.5 240.9 102.0 241.2 102.2 241.8 102.1 243.5 101.0 245.2 100.5 245.7 99.8 246.0" fill="#fff" fill-opacity="0.4" fill-rule="evenodd" stroke="#000" stroke-opacity="0.6" stroke-width="1.05"/>
<path d="M93.0 279.3 88.0 279.3 82.2 278.6 80.5 278.1 78.5 277.2 77.1 276.2 76.1 275.2 75.7 274.5 75.6 273.8 76.2 270.8 75.2 266.0 75.0 263.2 75.6 260.2 76.0 259.2 76.8 258.4 77.8 257.9 79.0 257.9 80.5 258.6 81.8 259.8 83.7 262.8 84.6 265.2 85.5 268.8 86.2 269.5 89.8 270.0 91.5 269.8 92.2 269.3 93.5 267.8 94.5 266.9 95.8 266.3 97.0 266.0 98.2 266.0 99.5 266.4 100.8 267.1 101.8 268.1 102.7 270.0 103.1 272.2 102.8 274.5 101.9 276.5 100.5 277.8 98.8 278.6 97.0 278.9 93.0 279.3" fill="#000" fill-opacity="0.06" fill-rule="evenodd" stroke="#000" stroke-opacity="0.6" stroke-width="1.05"/>
<path d="M92.8 278.8 88.0 278.9 82.8 278.2 79.5 277.0 78.2 276.2 77.2 275.2 76.7 274.0 76.8 271.0 75.8 267.0 75.5 264.0 75.6 262.5 76.0 261.0 76.5 260.0 77.2 259.1 78.2 258.7 79.5 258.9 80.8 259.6 81.8 260.8 82.8 262.2 83.9 264.5 85.1 269.2 85.5 269.8 86.0 270.1 90.0 270.5 91.8 270.4 92.5 270.0 94.8 267.6 95.8 267.0 97.0 266.7 98.0 266.7 99.2 267.0 100.2 267.6 101.2 268.5 102.1 270.2 102.5 272.2 102.1 274.5 101.2 276.2 100.0 277.3 98.2 278.0 92.8 278.8" fill="#000" fill-opacity="0.08" fill-rule="evenodd" stroke="#000" stroke-opacity="0.6" stroke-width="1.05"/>
<path d="M93.0 278.3 88.2 278.4 83.5 277.8 80.5 276.9 79.2 276.2 78.2 275.2 77.6 274.0 77.4 271.2 76.4 267.5 76.0 265.0 76.3 262.0 76.8 260.9 77.5 260.0 78.5 259.5 79.5 259.7 80.8 260.4 81.8 261.5 82.9 263.2 83.6 265.0 84.8 269.7 85.7 270.5 90.7 271.0 92.0 270.9 93.0 270.4 95.0 268.2 96.0 267.6 97.0 267.4 98.0 267.4 99.0 267.6 100.6 268.8 101.6 270.5 101.9 272.2 101.5 274.2 100.7 275.8 99.7 276.8 98.2 277.4 96.5 277.8 93.0 278.3" fill="#000" fill-opacity="0.1" fill-rule="evenodd" stroke="#000" stroke-opacity="0.6" stroke-width="1.05"/>
<path d="M91.2 278.0 87.2 278.0 83.2 277.4 80.5 276.4 78.8 275.0 78.3 274.0 78.0 271.5 76.9 268.0 76.4 265.5 76.4 264.0 76.7 262.5 77.1 261.5 77.8 260.7 78.8 260.3 79.8 260.5 80.8 261.1 81.8 262.2 82.7 263.8 83.4 265.5 84.2 269.8 84.7 270.5 85.2 270.8 91.0 271.4 92.5 271.4 93.5 270.8 95.2 268.7 96.2 268.1 97.2 267.9 99.0 268.2 100.3 269.2 101.1 270.8 101.3 272.5 100.9 274.2 100.0 275.8 98.8 276.6 97.5 277.1 91.2 278.0" fill="#000" fill-opacity="0.12" fill-rule="evenodd" stroke="#000" stroke-opacity="0.6" stroke-width="1.05"/>
<path d="M92.2 277.5 88.2 277.7 84.2 277.2 81.5 276.4 80.4 275.8 79.6 275.0 78.9 273.8 78.5 271.6 77.3 268.2 76.8 266.0 76.8 264.5 77.0 263.0 77.4 262.0 78.0 261.3 78.8 260.9 79.8 261.1 80.8 261.7 81.7 262.8 82.4 264.0 83.1 265.8 84.0 270.2 84.3 270.8 85.0 271.2 92.5 271.8 93.5 271.4 95.2 269.4 96.5 268.6 97.5 268.4 98.2 268.5 99.0 268.8 99.8 269.5 100.6 270.8 100.8 272.2 100.6 273.8 99.7 275.2 98.8 276.0 97.5 276.6 92.2 277.5" fill="#000" fill-opacity="0.12" fill-rule="evenodd" stroke="#000" stroke-opacity="0.6" stroke-width="1.05"/>
<path d="M91.2 277.3 88.0 277.4 84.5 276.9 81.8 276.0 80.1 274.8 79.6 274.0 79.0 271.5 77.7 268.5 77.2 266.2 77.3 263.5 77.7 262.5 78.2 261.9 79.0 261.6 80.0 261.8 80.9 262.5 81.7 263.5 82.9 266.2 83.5 270.5 84.0 271.2 84.6 271.5 92.8 272.3 93.8 271.9 95.5 269.9 96.8 269.1 98.2 269.1 99.6 270.0 100.2 271.2 100.3 272.8 99.9 274.0 99.0 275.2 98.0 275.8 97.0 276.2 91.2 277.3" fill="#000" fill-opacity="0.12" fill-rule="evenodd" stroke="#000" stroke-opacity="0.6" stroke-width="1.05"/>
<path d="M90.2 277.0 87.2 277.0 84.2 276.4 82.0 275.6 80.6 274.5 80.2 273.8 79.6 271.8 78.2 268.8 77.6 266.8 77.5 265.2 77.6 264.0 78.0 263.0 78.5 262.5 79.2 262.2 80.0 262.4 81.0 263.2 81.7 264.2 82.7 267.0 83.1 270.8 83.5 271.5 84.0 271.8 85.0 272.0 88.5 272.2 93.0 272.8 94.2 272.3 95.8 270.4 96.8 269.7 98.0 269.7 98.7 270.0 99.2 270.5 99.8 271.8 99.7 273.0 99.2 274.1 98.3 275.0 96.8 275.7 90.2 277.0" fill="#000" fill-opacity="0.1" fill-rule="evenodd" stroke="#000" stroke-opacity="0.6" stroke-width="1.05"/>
<path d="M91.0 276.5 88.2 276.7 85.5 276.3 82.9 275.5 81.4 274.5 81.0 273.8 80.3 271.8 78.8 269.2 78.1 267.5 77.9 265.0 78.1 264.0 78.5 263.2 79.2 262.9 80.0 263.0 80.8 263.6 81.5 264.6 82.4 267.2 82.6 271.2 82.8 271.8 83.5 272.2 84.8 272.4 89.0 272.6 93.8 273.4 94.8 272.9 96.0 271.0 96.8 270.4 98.0 270.4 98.8 271.0 99.1 271.8 99.1 272.8 98.8 273.7 98.0 274.5 97.0 274.9 94.8 275.3 91.0 276.5" fill="#000" fill-opacity="0.05" fill-rule="evenodd" stroke="#000" stroke-opacity="0.6" stroke-width="1.05"/>
<path d="M81.5 271.0 81.0 271.1 80.0 270.4 79.2 269.2 78.5 267.8 78.3 266.2 78.3 265.0 78.7 264.0 79.2 263.5 80.0 263.6 80.8 264.2 81.9 266.2 82.2 268.8 82.0 270.0 81.5 271.0M97.0 274.0 96.0 273.9 95.8 273.5 95.8 273.0 96.6 271.5 97.2 271.1 97.8 271.2 98.3 271.8 98.4 272.8 98.0 273.5 97.0 274.0M90.2 276.3 87.2 276.3 84.1 275.5 83.1 275.0 82.2 274.2 81.9 273.5 82.0 273.0 82.5 272.8 89.0 272.9 91.5 273.6 92.5 274.0 93.2 274.5 93.1 275.0 92.6 275.5 90.2 276.3" fill="#fff" fill-opacity="0.4" fill-rule="evenodd" stroke="#000" stroke-opacity="0.6" stroke-width="1.05"/>
<path d="M81.2 269.8 80.8 270.0 80.0 269.5 78.9 267.8 78.7 266.5 78.7 265.5 79.0 264.6 79.5 264.3 80.0 264.3 80.6 264.8 81.5 266.4 81.8 268.4 81.2 269.8M90.2 275.8 88.2 276.0 86.0 275.6 84.1 274.8 83.7 274.0 84.7 273.5 86.4 273.2 88.2 273.2 89.8 273.5 91.1 274.0 91.8 274.8 91.5 275.3 90.2 275.8" fill="#fff" fill-opacity="0.4" fill-rule="evenodd" stroke="#000" stroke-opacity="0.6" stroke-width="1.05"/>

</g>
<clipPath id="b2"><rect x="140.5" y="190.5" width="93.0" height="94.69999999999999"/></clipPath>
<g clip-path="url(#b2)">

<path d="M175.9 216.1h1M177.7 238.5h1M214.6 220.4h1M170.2 227.6h1M196.3 204.2h1M181.4 210.3h1M196.5 203.7h1M162.0 215.7h1M184.3 233.3h1M171.8 225.0h1M179.5 224.9h1M213.0 233.3h1M178.1 215.9h1M177.7 216.6h1M183.4 209.1h1M209.2 204.2h1M181.1 209.1h1M183.2 242.0h1M215.3 225.7h1M177.5 216.5h1M209.7 201.6h1M176.5 222.8h1M186.3 239.6h1M209.4 232.1h1M181.2 231.1h1" stroke="#bbb" stroke-width="1.06" fill="none"/>
<path d="M196.8 234.0 194.2 234.1 191.5 233.7 189.0 232.9 186.8 231.7 184.8 230.0 183.3 228.2 182.1 226.2 181.4 224.0 181.2 221.5 181.5 219.2 182.3 217.0 183.5 215.0 185.2 213.1 187.2 211.6 189.5 210.5 192.0 209.8 194.8 209.5 197.5 209.7 200.2 210.4 202.8 211.6 204.9 213.2 206.7 215.2 207.9 217.5 208.6 219.8 208.8 222.2 208.4 224.8 207.5 227.0 206.2 229.0 204.2 230.9 202.0 232.4 199.5 233.4 196.8 234.0" fill="#000" fill-opacity="0.03" fill-rule="evenodd" stroke="#000" stroke-opacity="0.4" stroke-width="1.05"/>
<path d="M196.2 232.5 194.0 232.5 191.5 232.1 189.5 231.4 187.5 230.2 185.8 228.8 184.6 227.2 183.6 225.2 183.0 223.2 183.0 221.2 183.4 219.0 184.1 217.2 185.2 215.5 186.8 213.9 188.8 212.6 190.8 211.7 193.0 211.2 195.5 211.0 197.8 211.3 200.0 212.0 202.0 213.0 203.9 214.5 205.3 216.2 206.4 218.2 206.9 220.2 207.1 222.2 206.7 224.5 205.9 226.5 204.5 228.4 203.0 229.9 201.0 231.1 198.8 232.0 196.2 232.5" fill="#000" fill-opacity="0.04" fill-rule="evenodd" stroke="#000" stroke-opacity="0.4" stroke-width="1.05"/>
<path d="M196.8 231.0 194.8 231.2 192.8 231.0 191.0 230.5 189.2 229.6 187.8 228.6 186.5 227.2 185.5 225.8 184.8 224.0 184.5 222.2 184.6 220.5 185.1 218.8 185.8 217.2 187.0 215.8 188.5 214.4 190.2 213.4 192.0 212.8 194.2 212.5 196.2 212.5 198.2 212.9 200.2 213.7 202.0 214.8 203.5 216.2 204.6 218.0 205.2 219.8 205.5 221.5 205.3 223.5 204.8 225.2 203.7 227.0 202.3 228.5 200.8 229.6 198.8 230.6 196.8 231.0" fill="#000" fill-opacity="0.05" fill-rule="evenodd" stroke="#000" stroke-opacity="0.4" stroke-width="1.05"/>
<path d="M196.8 229.8 195.0 229.9 193.2 229.8 191.5 229.3 190.0 228.6 188.8 227.7 187.6 226.5 186.8 225.2 186.2 223.8 185.9 222.2 186.0 220.8 186.4 219.2 187.1 217.8 188.1 216.5 189.3 215.5 190.8 214.6 192.2 214.1 194.0 213.7 195.8 213.7 197.5 214.0 199.2 214.6 200.8 215.5 202.1 216.8 203.2 218.2 203.8 219.8 204.1 221.2 204.0 223.0 203.6 224.5 202.8 226.0 201.7 227.2 200.2 228.4 198.5 229.3 196.8 229.8" fill="#000" fill-opacity="0.05" fill-rule="evenodd" stroke="#000" stroke-opacity="0.4" stroke-width="1.05"/>
<path d="M196.0 235.8 193.0 235.7 190.0 235.1 187.2 234.0 184.8 232.4 182.7 230.5 181.1 228.2 179.9 225.5 179.4 223.0 179.4 220.2 180.1 217.5 181.2 215.2 182.8 213.0 184.8 211.2 187.2 209.6 190.0 208.5 193.2 207.9 196.2 207.9 199.2 208.3 202.2 209.4 204.8 210.9 207.0 212.8 208.8 215.2 210.1 218.0 210.6 220.5 210.6 223.2 209.9 226.2 208.6 228.8 206.8 231.0 204.5 232.9 202.0 234.3 199.0 235.3 196.0 235.8" fill="none" stroke="#000" stroke-opacity="0.4" stroke-width="1.05"/>
<path d="M197.0 228.0 194.5 228.1 192.2 227.4 190.5 226.2 189.4 224.5 189.0 222.5 189.5 220.5 190.8 218.8 192.8 217.6 195.2 217.0 196.8 217.1 198.0 217.4 199.2 218.0 200.4 218.8 201.3 219.8 201.9 220.8 202.2 221.8 202.2 223.0 201.9 224.2 201.4 225.2 200.6 226.2 199.5 227.1 197.0 228.0" fill="#000" fill-opacity="0.06" fill-rule="evenodd" stroke="#000" stroke-opacity="0.6" stroke-width="1.05"/>
<path d="M196.8 227.5 194.8 227.6 192.5 226.9 191.0 225.8 190.0 224.2 189.6 222.5 190.1 220.8 191.2 219.2 193.0 218.1 195.2 217.6 197.8 217.9 199.0 218.5 200.0 219.2 201.3 221.0 201.5 223.0 201.3 224.0 200.8 225.0 199.2 226.6 198.0 227.2 196.8 227.5" fill="#000" fill-opacity="0.08" fill-rule="evenodd" stroke="#000" stroke-opacity="0.6" stroke-width="1.05"/>
<path d="M196.8 227.0 194.8 227.1 193.0 226.5 191.5 225.5 190.6 224.2 190.2 222.5 190.6 221.0 191.5 219.7 193.0 218.7 195.2 218.1 197.5 218.4 199.5 219.5 200.6 221.0 200.9 222.0 200.9 223.0 200.3 224.8 198.8 226.2 196.8 227.0" fill="#000" fill-opacity="0.1" fill-rule="evenodd" stroke="#000" stroke-opacity="0.6" stroke-width="1.05"/>
<path d="M196.8 226.5 195.0 226.6 193.2 226.2 191.9 225.2 191.1 224.0 190.8 222.8 191.0 221.2 191.9 220.0 193.2 219.0 195.2 218.5 197.2 218.8 199.0 219.8 200.2 221.2 200.4 223.0 199.9 224.5 198.5 225.9 196.8 226.5" fill="#000" fill-opacity="0.12" fill-rule="evenodd" stroke="#000" stroke-opacity="0.6" stroke-width="1.05"/>
<path d="M196.0 226.3 194.5 226.2 193.0 225.6 191.9 224.5 191.3 223.2 191.3 222.0 191.8 220.8 193.0 219.6 194.5 219.0 196.2 219.0 198.0 219.5 199.2 220.6 199.9 222.0 199.8 223.5 199.1 224.8 197.8 225.8 196.0 226.3" fill="#000" fill-opacity="0.12" fill-rule="evenodd" stroke="#000" stroke-opacity="0.6" stroke-width="1.05"/>
<path d="M196.5 225.8 195.0 225.8 193.8 225.5 192.6 224.8 191.9 223.8 191.7 222.8 191.9 221.5 192.6 220.5 193.8 219.7 195.2 219.3 197.0 219.5 198.3 220.2 199.3 221.5 199.5 223.0 199.0 224.2 198.0 225.2 196.5 225.8" fill="#000" fill-opacity="0.12" fill-rule="evenodd" stroke="#000" stroke-opacity="0.6" stroke-width="1.05"/>
<path d="M196.8 225.3 195.8 225.5 194.5 225.3 193.5 224.9 192.6 224.0 192.2 223.0 192.2 222.0 192.7 221.0 193.5 220.3 194.8 219.8 196.2 219.8 197.6 220.2 198.7 221.2 199.0 222.5 198.8 223.8 198.0 224.7 196.8 225.3" fill="#000" fill-opacity="0.1" fill-rule="evenodd" stroke="#000" stroke-opacity="0.6" stroke-width="1.05"/>
<path d="M196.2 225.0 195.2 225.1 194.2 224.8 193.4 224.2 192.8 223.5 192.6 222.8 192.8 221.8 193.3 221.0 194.2 220.4 195.5 220.1 196.8 220.3 197.8 220.9 198.4 221.8 198.6 222.8 198.3 223.8 197.5 224.5 196.2 225.0" fill="#000" fill-opacity="0.05" fill-rule="evenodd" stroke="#000" stroke-opacity="0.6" stroke-width="1.05"/>
<path d="M196.5 224.6 195.8 224.7 194.8 224.6 193.5 223.8 193.1 223.0 193.1 222.2 193.4 221.5 194.0 221.0 195.0 220.5 196.0 220.5 197.0 220.8 197.8 221.5 198.1 222.2 198.0 223.2 197.5 224.0 196.5 224.6" fill="#fff" fill-opacity="0.4" fill-rule="evenodd" stroke="#000" stroke-opacity="0.6" stroke-width="1.05"/>
<path d="M195.8 224.3 195.0 224.2 194.2 223.8 193.8 223.2 193.6 222.8 193.7 222.2 194.0 221.6 195.2 221.0 196.0 221.0 196.8 221.2 197.3 221.8 197.6 222.5 197.4 223.2 197.0 223.8 195.8 224.3" fill="#fff" fill-opacity="0.4" fill-rule="evenodd" stroke="#000" stroke-opacity="0.6" stroke-width="1.05"/>

</g>
<clipPath id="b3"><rect x="233.5" y="190.5" width="94.0" height="94.69999999999999"/></clipPath>
<g clip-path="url(#b3)">

<path d="M275.0 224.5h1M299.7 192.3h1M282.5 246.3h1M267.9 218.1h1M273.8 223.7h1M303.5 215.4h1M317.9 223.3h1M270.9 215.1h1M279.1 206.9h1M268.1 227.8h1M277.1 232.2h1M269.0 210.5h1M273.8 209.8h1M272.1 221.6h1M298.4 200.7h1M270.2 214.1h1M265.4 225.4h1M299.8 201.9h1" stroke="#bbb" stroke-width="1.06" fill="none"/>
<path d="M292.8 232.5 287.0 232.6 283.8 232.1 282.2 231.6 281.0 230.9 280.0 230.0 279.3 229.0 278.6 227.2 278.2 225.2 278.1 221.2 278.3 218.5 278.7 216.8 279.4 215.2 280.2 214.2 281.5 213.2 283.5 212.3 285.8 211.9 290.2 211.8 293.5 212.0 295.5 212.3 297.2 213.0 298.6 214.0 299.6 215.2 300.4 217.2 300.8 220.0 300.8 225.0 300.2 228.0 299.2 229.8 297.5 231.2 295.5 232.1 292.8 232.5" fill="#000" fill-opacity="0.03" fill-rule="evenodd" stroke="#000" stroke-opacity="0.4" stroke-width="1.05"/>
<path d="M291.8 231.3 287.0 231.2 284.2 230.8 282.0 229.8 281.2 229.0 280.5 228.0 279.9 226.5 279.6 224.8 279.6 221.0 279.7 218.8 280.1 217.2 280.7 216.0 281.6 215.0 282.8 214.2 284.5 213.5 286.5 213.2 290.8 213.1 293.5 213.3 295.0 213.6 296.5 214.3 297.7 215.2 298.6 216.5 299.2 218.5 299.5 221.5 299.3 225.2 298.6 227.8 297.6 229.2 296.0 230.4 294.2 231.0 291.8 231.3" fill="#000" fill-opacity="0.04" fill-rule="evenodd" stroke="#000" stroke-opacity="0.4" stroke-width="1.05"/>
<path d="M292.5 230.0 288.0 230.1 285.2 229.8 283.2 229.0 281.8 227.5 281.2 226.2 280.9 224.8 280.9 219.8 281.6 217.2 282.3 216.2 283.2 215.4 284.8 214.7 286.5 214.4 292.2 214.4 294.0 214.7 295.2 215.1 296.2 215.8 297.1 216.8 297.8 218.2 298.1 220.2 298.1 224.2 297.7 226.5 296.8 228.0 295.8 229.0 294.2 229.7 292.5 230.0" fill="#000" fill-opacity="0.05" fill-rule="evenodd" stroke="#000" stroke-opacity="0.4" stroke-width="1.05"/>
<path d="M291.5 229.0 287.8 229.0 285.5 228.7 283.8 227.8 282.8 226.6 282.3 225.5 282.1 224.2 282.1 219.8 282.8 217.8 283.3 217.0 284.2 216.2 285.5 215.7 287.0 215.4 292.2 215.5 293.6 215.8 294.8 216.2 295.7 217.0 296.2 217.8 296.8 219.2 297.0 221.2 296.9 224.2 296.4 226.2 295.8 227.3 294.6 228.2 293.2 228.8 291.5 229.0" fill="#000" fill-opacity="0.05" fill-rule="evenodd" stroke="#000" stroke-opacity="0.4" stroke-width="1.05"/>
<path d="M291.8 228.0 288.2 228.1 286.2 227.8 284.8 227.2 283.8 226.1 283.4 225.2 283.1 224.0 283.1 220.2 283.8 218.3 285.0 217.1 286.0 216.6 287.5 216.4 291.8 216.4 293.9 217.0 295.2 218.2 295.7 219.5 295.9 221.0 295.9 223.8 295.6 225.5 295.0 226.5 294.2 227.2 293.1 227.8 291.8 228.0" fill="#000" fill-opacity="0.05" fill-rule="evenodd" stroke="#000" stroke-opacity="0.4" stroke-width="1.05"/>
<path d="M291.5 234.0 285.5 233.9 282.0 233.2 280.5 232.5 279.2 231.6 278.3 230.5 277.6 229.2 276.9 227.2 276.6 224.8 276.6 220.0 276.9 217.2 277.4 215.5 278.4 213.8 279.8 212.4 281.2 211.5 283.5 210.8 286.2 210.4 291.8 210.4 295.0 210.7 297.2 211.3 299.0 212.2 300.4 213.5 301.4 215.0 302.2 218.0 302.4 222.8 302.2 226.8 301.3 229.5 299.8 231.5 297.8 232.9 295.2 233.7 291.5 234.0" fill="none" stroke="#000" stroke-opacity="0.4" stroke-width="1.05"/>
<path d="M295.2 230.8 294.0 230.9 292.5 230.7 291.2 230.3 290.0 229.6 288.9 228.5 287.9 227.2 287.3 226.0 286.8 224.2 286.7 222.5 286.8 221.0 287.2 219.8 287.9 218.2 288.8 217.1 289.8 216.2 291.0 215.5 292.2 215.2 293.8 215.1 295.0 215.3 296.2 215.8 297.5 216.7 298.5 217.8 299.4 219.0 300.4 221.8 300.4 224.8 300.1 226.0 299.5 227.5 298.8 228.6 297.8 229.6 296.5 230.3 295.2 230.8" fill="#000" fill-opacity="0.06" fill-rule="evenodd" stroke="#000" stroke-opacity="0.6" stroke-width="1.05"/>
<path d="M295.0 230.0 293.8 230.1 292.5 229.9 291.2 229.5 290.2 228.8 289.2 227.8 288.5 226.8 287.5 224.2 287.5 221.5 288.3 219.0 289.0 217.9 290.0 217.0 291.0 216.4 292.2 216.0 293.5 215.9 294.8 216.1 296.0 216.6 297.0 217.2 298.7 219.2 299.7 221.8 299.7 224.5 298.9 227.0 298.2 228.0 297.2 229.0 296.2 229.6 295.0 230.0" fill="#000" fill-opacity="0.08" fill-rule="evenodd" stroke="#000" stroke-opacity="0.6" stroke-width="1.05"/>
<path d="M295.0 229.3 294.0 229.4 292.8 229.3 290.8 228.4 289.1 226.5 288.2 224.2 288.1 221.8 288.8 219.5 290.2 217.7 291.2 217.1 292.2 216.7 293.2 216.6 294.5 216.7 296.5 217.7 298.1 219.5 299.0 221.8 299.1 224.2 298.4 226.5 297.0 228.3 296.0 228.9 295.0 229.3" fill="#000" fill-opacity="0.1" fill-rule="evenodd" stroke="#000" stroke-opacity="0.6" stroke-width="1.05"/>
<path d="M294.2 228.8 292.2 228.5 290.5 227.4 289.2 225.5 288.6 223.5 288.7 221.2 289.6 219.2 291.0 217.9 292.8 217.3 294.8 217.4 296.6 218.5 297.9 220.2 298.6 222.5 298.5 224.8 297.6 226.8 296.0 228.2 294.2 228.8" fill="#000" fill-opacity="0.12" fill-rule="evenodd" stroke="#000" stroke-opacity="0.6" stroke-width="1.05"/>
<path d="M295.0 228.0 293.2 228.2 291.5 227.5 290.2 226.2 289.2 224.2 289.1 222.2 289.6 220.2 290.8 218.8 292.5 217.9 294.2 217.9 295.8 218.5 297.2 220.0 298.0 221.8 298.2 223.8 297.6 225.8 296.5 227.2 295.0 228.0" fill="#000" fill-opacity="0.12" fill-rule="evenodd" stroke="#000" stroke-opacity="0.6" stroke-width="1.05"/>
<path d="M294.8 227.5 293.0 227.6 291.5 226.9 290.4 225.8 289.7 224.0 289.5 222.2 290.0 220.5 291.0 219.2 292.5 218.4 294.0 218.4 295.5 219.0 296.8 220.2 297.5 222.0 297.7 223.8 297.2 225.5 296.2 226.8 294.8 227.5" fill="#000" fill-opacity="0.12" fill-rule="evenodd" stroke="#000" stroke-opacity="0.6" stroke-width="1.05"/>
<path d="M294.5 227.0 293.0 227.0 291.8 226.4 290.7 225.2 290.1 223.8 290.0 222.2 290.5 220.7 291.5 219.5 292.8 219.0 294.2 219.0 295.5 219.6 296.5 220.8 297.1 222.2 297.2 223.8 296.7 225.2 295.8 226.4 294.5 227.0" fill="#000" fill-opacity="0.1" fill-rule="evenodd" stroke="#000" stroke-opacity="0.6" stroke-width="1.05"/>
<path d="M294.2 226.5 293.0 226.5 292.0 226.0 291.1 225.0 290.5 223.5 290.5 222.2 291.0 220.9 291.8 220.0 293.0 219.5 294.2 219.6 295.2 220.1 296.2 221.2 296.7 222.5 296.7 223.8 296.2 225.0 295.4 226.0 294.2 226.5" fill="#000" fill-opacity="0.05" fill-rule="evenodd" stroke="#000" stroke-opacity="0.6" stroke-width="1.05"/>
<path d="M293.8 226.0 292.8 225.8 292.0 225.2 291.3 224.2 291.0 223.2 291.1 222.0 291.5 221.1 292.2 220.3 293.2 220.0 294.2 220.1 295.2 220.8 295.9 221.8 296.2 222.8 296.1 224.0 295.6 225.0 294.8 225.8 293.8 226.0" fill="#fff" fill-opacity="0.4" fill-rule="evenodd" stroke="#000" stroke-opacity="0.6" stroke-width="1.05"/>
<path d="M294.2 225.3 293.5 225.4 292.6 225.0 292.0 224.4 291.6 223.5 291.6 222.5 291.8 221.8 292.2 221.1 293.0 220.7 293.8 220.6 294.6 221.0 295.2 221.7 295.6 222.5 295.6 223.5 295.4 224.2 295.0 224.8 294.2 225.3" fill="#fff" fill-opacity="0.4" fill-rule="evenodd" stroke="#000" stroke-opacity="0.6" stroke-width="1.05"/>

</g>
<text x="-0.3" y="16.2" font-size="21" text-anchor="start" font-weight="bold" fill="#000" >A</text><text x="0.6" y="187.2" font-size="21" text-anchor="start" font-weight="bold" fill="#000" >B</text><text x="0.2" y="340.2" font-size="21" text-anchor="start" font-weight="bold" fill="#000" >C</text><text x="254" y="340" font-size="21" text-anchor="start" font-weight="bold" fill="#000" >D</text><text x="90.6" y="26.6" font-size="12" text-anchor="middle" font-weight="normal" fill="#000" >TCD BM</text><text x="188.5" y="26.8" font-size="12" text-anchor="middle" font-weight="normal" fill="#000" >TCD BM +</text><text x="188.3" y="42" font-size="12" text-anchor="middle" font-weight="normal" fill="#000" >Naive CD8<tspan font-size="8" dy="-4.5">+</tspan><tspan dy="4.5"> T</tspan></text><text x="280.4" y="26.6" font-size="12" text-anchor="middle" font-weight="normal" fill="#000" >TCD BM +</text><text x="279.5" y="41.8" font-size="12" text-anchor="middle" font-weight="normal" fill="#000" >Memory CD8<tspan font-size="8" dy="-4.5">+</tspan><tspan dy="4.5"> T</tspan></text><text x="368.9" y="26.6" font-size="12" text-anchor="middle" font-weight="normal" fill="#000" >BCL<tspan font-size="8.6" dy="3.4">1</tspan><tspan dy="-3.4"> only</tspan></text><rect x="44.5" y="46.5" width="96.0" height="93.0" fill="none" stroke="#ababab" stroke-width="1.3"/><rect x="140.5" y="46.5" width="93.0" height="93.0" fill="none" stroke="#ababab" stroke-width="1.3"/><rect x="233.5" y="46.5" width="93.5" height="93.0" fill="none" stroke="#ababab" stroke-width="1.3"/><rect x="327" y="46.5" width="93.5" height="93.0" fill="none" stroke="#ababab" stroke-width="1.3"/><rect x="44.5" y="190.5" width="96.0" height="94.69999999999999" fill="none" stroke="#ababab" stroke-width="1.3"/><rect x="140.5" y="190.5" width="93.0" height="94.69999999999999" fill="none" stroke="#ababab" stroke-width="1.3"/><rect x="233.5" y="190.5" width="93.5" height="94.69999999999999" fill="none" stroke="#ababab" stroke-width="1.3"/><text x="36.4" y="59.1" font-size="9.1" text-anchor="end" font-weight="normal" fill="#000" >10</text><text x="36.8" y="54.6" font-size="7" text-anchor="start" font-weight="normal" fill="#000" >5</text><text x="36.4" y="80.5" font-size="9.1" text-anchor="end" font-weight="normal" fill="#000" >10</text><text x="36.8" y="76.0" font-size="7" text-anchor="start" font-weight="normal" fill="#000" >4</text><text x="36.4" y="101.9" font-size="9.1" text-anchor="end" font-weight="normal" fill="#000" >10</text><text x="36.8" y="97.4" font-size="7" text-anchor="start" font-weight="normal" fill="#000" >3</text><text x="36.4" y="123.3" font-size="9.1" text-anchor="end" font-weight="normal" fill="#000" >10</text><text x="36.8" y="118.8" font-size="7" text-anchor="start" font-weight="normal" fill="#000" >2</text><text x="35.2" y="133.6" font-size="9.1" text-anchor="start" font-weight="normal" fill="#000" >0</text><text x="36.4" y="202.89999999999998" font-size="9.1" text-anchor="end" font-weight="normal" fill="#000" >10</text><text x="36.8" y="198.39999999999998" font-size="7" text-anchor="start" font-weight="normal" fill="#000" >5</text><text x="36.4" y="224.39999999999998" font-size="9.1" text-anchor="end" font-weight="normal" fill="#000" >10</text><text x="36.8" y="219.89999999999998" font-size="7" text-anchor="start" font-weight="normal" fill="#000" >4</text><text x="36.4" y="245.89999999999998" font-size="9.1" text-anchor="end" font-weight="normal" fill="#000" >10</text><text x="36.8" y="241.39999999999998" font-size="7" text-anchor="start" font-weight="normal" fill="#000" >3</text><text x="36.4" y="267.4" font-size="9.1" text-anchor="end" font-weight="normal" fill="#000" >10</text><text x="36.8" y="262.9" font-size="7" text-anchor="start" font-weight="normal" fill="#000" >2</text><text x="35.2" y="278.59999999999997" font-size="9.1" text-anchor="start" font-weight="normal" fill="#000" >0</text><text x="52.5" y="154.3" font-size="9.2" text-anchor="start" font-weight="normal" fill="#000" >0</text><text x="58.0" y="154.3" font-size="9.2">10<tspan font-size="7" dy="-4.7">2</tspan></text><text x="81.8" y="154.3" font-size="9.2">10<tspan font-size="7" dy="-4.7">3</tspan></text><text x="104.39999999999999" y="154.3" font-size="9.2">10<tspan font-size="7" dy="-4.7">4</tspan></text><text x="126.19999999999999" y="154.3" font-size="9.2">10<tspan font-size="7" dy="-4.7">5</tspan></text><text x="148.9" y="154.3" font-size="9.2" text-anchor="start" font-weight="normal" fill="#000" >0</text><text x="152.2" y="154.3" font-size="9.2">10<tspan font-size="7" dy="-4.7">2</tspan></text><text x="174.2" y="154.3" font-size="9.2">10<tspan font-size="7" dy="-4.7">3</tspan></text><text x="196.0" y="154.3" font-size="9.2">10<tspan font-size="7" dy="-4.7">4</tspan></text><text x="217.1" y="154.3" font-size="9.2">10<tspan font-size="7" dy="-4.7">5</tspan></text><text x="243.2" y="154.3" font-size="9.2" text-anchor="start" font-weight="normal" fill="#000" >0</text><text x="246.5" y="154.3" font-size="9.2">10<tspan font-size="7" dy="-4.7">2</tspan></text><text x="267.40000000000003" y="154.3" font-size="9.2">10<tspan font-size="7" dy="-4.7">3</tspan></text><text x="290.0" y="154.3" font-size="9.2">10<tspan font-size="7" dy="-4.7">4</tspan></text><text x="310.20000000000005" y="154.3" font-size="9.2">10<tspan font-size="7" dy="-4.7">5</tspan></text><text x="336.1" y="154.3" font-size="9.2" text-anchor="start" font-weight="normal" fill="#000" >0</text><text x="339.5" y="154.3" font-size="9.2">10<tspan font-size="7" dy="-4.7">2</tspan></text><text x="360.3" y="154.3" font-size="9.2">10<tspan font-size="7" dy="-4.7">3</tspan></text><text x="382.90000000000003" y="154.3" font-size="9.2">10<tspan font-size="7" dy="-4.7">4</tspan></text><text x="403.1" y="154.3" font-size="9.2">10<tspan font-size="7" dy="-4.7">5</tspan></text><text x="52.6" y="299.3" font-size="9.2" text-anchor="start" font-weight="normal" fill="#000" >0</text><text x="56.4" y="299.3" font-size="9.2">10<tspan font-size="7" dy="-4.7">2</tspan></text><text x="81.39999999999999" y="299.3" font-size="9.2">10<tspan font-size="7" dy="-4.7">3</tspan></text><text x="103.89999999999999" y="299.3" font-size="9.2">10<tspan font-size="7" dy="-4.7">4</tspan></text><text x="125.1" y="299.3" font-size="9.2">10<tspan font-size="7" dy="-4.7">5</tspan></text><text x="147.4" y="299.3" font-size="9.2" text-anchor="start" font-weight="normal" fill="#000" >0</text><text x="150.9" y="299.3" font-size="9.2">10<tspan font-size="7" dy="-4.7">2</tspan></text><text x="175.9" y="299.3" font-size="9.2">10<tspan font-size="7" dy="-4.7">3</tspan></text><text x="197.7" y="299.3" font-size="9.2">10<tspan font-size="7" dy="-4.7">4</tspan></text><text x="217.29999999999998" y="299.3" font-size="9.2">10<tspan font-size="7" dy="-4.7">5</tspan></text><text x="240.4" y="299.3" font-size="9.2" text-anchor="start" font-weight="normal" fill="#000" >0</text><text x="243.9" y="299.3" font-size="9.2">10<tspan font-size="7" dy="-4.7">2</tspan></text><text x="268.90000000000003" y="299.3" font-size="9.2">10<tspan font-size="7" dy="-4.7">3</tspan></text><text x="290.70000000000005" y="299.3" font-size="9.2">10<tspan font-size="7" dy="-4.7">4</tspan></text><text x="310.3" y="299.3" font-size="9.2">10<tspan font-size="7" dy="-4.7">5</tspan></text><path d="M44.5 46.5 V139.5 H140.5" fill="none" stroke="#7a7a7a" stroke-width="1.1"/><path d="M42.5 120.1h2M42.5 98.7h2M42.5 77.3h2M42.5 55.9h2M42.5 130.4h2M65.1 139.5v2M88.9 139.5v2M111.5 139.5v2M133.29999999999998 139.5v2M55.0 139.5v2" stroke="#333" stroke-width="1.1"/><path d="M43.3 113.7h1.2M43.3 109.9h1.2M43.3 107.2h1.2M43.3 105.1h1.2M43.3 103.4h1.2M43.3 102.0h1.2M43.3 100.8h1.2M43.3 99.7h1.2M43.3 92.3h1.2M43.3 88.5h1.2M43.3 85.8h1.2M43.3 83.7h1.2M43.3 82.0h1.2M43.3 80.6h1.2M43.3 79.4h1.2M43.3 78.3h1.2M43.3 70.9h1.2M43.3 67.1h1.2M43.3 64.4h1.2M43.3 62.3h1.2M43.3 60.6h1.2M43.3 59.2h1.2M43.3 58.0h1.2M43.3 56.9h1.2M72.3 139.5v1.4M76.5 139.5v1.4M79.4 139.5v1.4M81.7 139.5v1.4M83.6 139.5v1.4M85.2 139.5v1.4M86.6 139.5v1.4M87.8 139.5v1.4M95.7 139.5v1.4M99.7 139.5v1.4M102.5 139.5v1.4M104.7 139.5v1.4M106.5 139.5v1.4M108.0 139.5v1.4M109.3 139.5v1.4M110.5 139.5v1.4M118.1 139.5v1.4M121.9 139.5v1.4M124.6 139.5v1.4M126.7 139.5v1.4M128.5 139.5v1.4M129.9 139.5v1.4M131.2 139.5v1.4M132.3 139.5v1.4" stroke="#888" stroke-width="1.05"/><path d="M140.5 139.5 H233.5" fill="none" stroke="#7a7a7a" stroke-width="1.1"/><path d="M159.29999999999998 139.5v2M181.29999999999998 139.5v2M203.1 139.5v2M224.2 139.5v2M151.4 139.5v2" stroke="#333" stroke-width="1.1"/><path d="M165.9 139.5v1.4M169.8 139.5v1.4M172.5 139.5v1.4M174.7 139.5v1.4M176.4 139.5v1.4M177.9 139.5v1.4M179.2 139.5v1.4M180.3 139.5v1.4M187.9 139.5v1.4M191.7 139.5v1.4M194.4 139.5v1.4M196.5 139.5v1.4M198.3 139.5v1.4M199.7 139.5v1.4M201.0 139.5v1.4M202.1 139.5v1.4M209.5 139.5v1.4M213.2 139.5v1.4M215.8 139.5v1.4M217.8 139.5v1.4M219.5 139.5v1.4M220.9 139.5v1.4M222.2 139.5v1.4M223.2 139.5v1.4" stroke="#888" stroke-width="1.05"/><path d="M233.5 139.5 H327" fill="none" stroke="#7a7a7a" stroke-width="1.1"/><path d="M253.6 139.5v2M274.5 139.5v2M297.09999999999997 139.5v2M317.3 139.5v2M245.7 139.5v2" stroke="#333" stroke-width="1.1"/><path d="M259.9 139.5v1.4M263.6 139.5v1.4M266.2 139.5v1.4M268.2 139.5v1.4M269.9 139.5v1.4M271.3 139.5v1.4M272.5 139.5v1.4M273.5 139.5v1.4M281.3 139.5v1.4M285.3 139.5v1.4M288.1 139.5v1.4M290.3 139.5v1.4M292.1 139.5v1.4M293.6 139.5v1.4M294.9 139.5v1.4M296.1 139.5v1.4M303.2 139.5v1.4M306.7 139.5v1.4M309.3 139.5v1.4M311.2 139.5v1.4M312.8 139.5v1.4M314.2 139.5v1.4M315.3 139.5v1.4M316.4 139.5v1.4" stroke="#888" stroke-width="1.05"/><path d="M327 139.5 H420.5" fill="none" stroke="#7a7a7a" stroke-width="1.1"/><path d="M346.59999999999997 139.5v2M367.4 139.5v2M390.0 139.5v2M410.2 139.5v2M338.6 139.5v2" stroke="#333" stroke-width="1.1"/><path d="M352.9 139.5v1.4M356.5 139.5v1.4M359.1 139.5v1.4M361.1 139.5v1.4M362.8 139.5v1.4M364.2 139.5v1.4M365.4 139.5v1.4M366.4 139.5v1.4M374.2 139.5v1.4M378.2 139.5v1.4M381.0 139.5v1.4M383.2 139.5v1.4M385.0 139.5v1.4M386.5 139.5v1.4M387.8 139.5v1.4M389.0 139.5v1.4M396.1 139.5v1.4M399.6 139.5v1.4M402.2 139.5v1.4M404.1 139.5v1.4M405.7 139.5v1.4M407.1 139.5v1.4M408.2 139.5v1.4M409.3 139.5v1.4" stroke="#888" stroke-width="1.05"/><path d="M44.5 190.5 V285.2 H140.5" fill="none" stroke="#7a7a7a" stroke-width="1.1"/><path d="M42.5 264.2h2M42.5 242.7h2M42.5 221.2h2M42.5 199.7h2M42.5 275.4h2M63.5 285.2v2M88.5 285.2v2M111.0 285.2v2M132.2 285.2v2M55.1 285.2v2" stroke="#333" stroke-width="1.1"/><path d="M43.3 257.7h1.2M43.3 253.9h1.2M43.3 251.3h1.2M43.3 249.2h1.2M43.3 247.5h1.2M43.3 246.0h1.2M43.3 244.8h1.2M43.3 243.7h1.2M43.3 236.2h1.2M43.3 232.4h1.2M43.3 229.8h1.2M43.3 227.7h1.2M43.3 226.0h1.2M43.3 224.5h1.2M43.3 223.3h1.2M43.3 222.2h1.2M43.3 214.7h1.2M43.3 210.9h1.2M43.3 208.3h1.2M43.3 206.2h1.2M43.3 204.5h1.2M43.3 203.0h1.2M43.3 201.8h1.2M43.3 200.7h1.2M71.0 285.2v1.4M75.4 285.2v1.4M78.6 285.2v1.4M81.0 285.2v1.4M83.0 285.2v1.4M84.6 285.2v1.4M86.1 285.2v1.4M87.4 285.2v1.4M95.3 285.2v1.4M99.2 285.2v1.4M102.0 285.2v1.4M104.2 285.2v1.4M106.0 285.2v1.4M107.5 285.2v1.4M108.8 285.2v1.4M110.0 285.2v1.4M117.4 285.2v1.4M121.1 285.2v1.4M123.8 285.2v1.4M125.8 285.2v1.4M127.5 285.2v1.4M128.9 285.2v1.4M130.1 285.2v1.4M131.2 285.2v1.4" stroke="#888" stroke-width="1.05"/><path d="M140.5 285.2 H233.5" fill="none" stroke="#7a7a7a" stroke-width="1.1"/><path d="M158.0 285.2v2M183.0 285.2v2M204.79999999999998 285.2v2M224.39999999999998 285.2v2M149.9 285.2v2" stroke="#333" stroke-width="1.1"/><path d="M165.5 285.2v1.4M169.9 285.2v1.4M173.1 285.2v1.4M175.5 285.2v1.4M177.5 285.2v1.4M179.1 285.2v1.4M180.6 285.2v1.4M181.9 285.2v1.4M189.6 285.2v1.4M193.4 285.2v1.4M196.1 285.2v1.4M198.2 285.2v1.4M200.0 285.2v1.4M201.4 285.2v1.4M202.7 285.2v1.4M203.8 285.2v1.4M210.7 285.2v1.4M214.2 285.2v1.4M216.6 285.2v1.4M218.5 285.2v1.4M220.1 285.2v1.4M221.4 285.2v1.4M222.5 285.2v1.4M223.5 285.2v1.4" stroke="#888" stroke-width="1.05"/><path d="M233.5 285.2 H327" fill="none" stroke="#7a7a7a" stroke-width="1.1"/><path d="M251.0 285.2v2M276.0 285.2v2M297.8 285.2v2M317.4 285.2v2M242.9 285.2v2" stroke="#333" stroke-width="1.1"/><path d="M258.5 285.2v1.4M262.9 285.2v1.4M266.1 285.2v1.4M268.5 285.2v1.4M270.5 285.2v1.4M272.1 285.2v1.4M273.6 285.2v1.4M274.9 285.2v1.4M282.6 285.2v1.4M286.4 285.2v1.4M289.1 285.2v1.4M291.2 285.2v1.4M293.0 285.2v1.4M294.4 285.2v1.4M295.7 285.2v1.4M296.8 285.2v1.4M303.7 285.2v1.4M307.2 285.2v1.4M309.6 285.2v1.4M311.5 285.2v1.4M313.1 285.2v1.4M314.4 285.2v1.4M315.5 285.2v1.4M316.5 285.2v1.4" stroke="#888" stroke-width="1.05"/><text x="237" y="168.8" font-size="14.4" text-anchor="middle" font-weight="normal" fill="#000" >CD19</text><line x1="55" y1="163" x2="209.2" y2="163" stroke="#555" stroke-width="1.6"/><line x1="262.2" y1="163" x2="415" y2="163" stroke="#555" stroke-width="1.6"/><text x="188.5" y="317" font-size="14.4" text-anchor="middle" font-weight="normal" fill="#000" >TCR&#946;</text><line x1="55" y1="310.6" x2="159.5" y2="310.6" stroke="#555" stroke-width="1.6"/><line x1="213" y1="310.6" x2="318" y2="310.6" stroke="#555" stroke-width="1.6"/><text x="0" y="0" font-size="15.5" text-anchor="middle" font-weight="normal" fill="#000" transform="translate(23.3,92) rotate(-90)">BCL<tspan font-size="10.5" dy="3.5">1</tspan><tspan dy="-3.5">Id</tspan></text><text x="0" y="0" font-size="14.4" text-anchor="middle" font-weight="normal" fill="#000" transform="translate(23.3,237) rotate(-90)">H-2<tspan font-size="10" dy="-5.5">b</tspan></text><rect x="86.6" y="64" width="28.80000000000001" height="28.400000000000006" fill="none" stroke="#222" stroke-width="1.1"/><rect x="183.4" y="54.6" width="29.599999999999994" height="26.800000000000004" fill="none" stroke="#222" stroke-width="1.1"/><rect x="277.4" y="54.4" width="29.0" height="27.000000000000007" fill="none" stroke="#222" stroke-width="1.1"/><rect x="370.4" y="54.4" width="29.0" height="26.6" fill="none" stroke="#222" stroke-width="1.1"/><rect x="72.4" y="224" width="38.599999999999994" height="32.39999999999998" fill="none" stroke="#222" stroke-width="1.1"/><rect x="183.4" y="208.4" width="27.599999999999994" height="26.0" fill="none" stroke="#222" stroke-width="1.1"/><rect x="276.6" y="208.4" width="28.0" height="26.0" fill="none" stroke="#222" stroke-width="1.1"/><text x="65" y="65" font-size="12" text-anchor="start" font-weight="normal" fill="#000" >9.5</text><text x="166.6" y="64.4" font-size="12" text-anchor="start" font-weight="normal" fill="#000" >0</text><text x="258.2" y="64.4" font-size="12" text-anchor="start" font-weight="normal" fill="#000" >0</text><text x="349" y="65" font-size="12" text-anchor="start" font-weight="normal" fill="#000" >2.2</text><text x="63" y="216.2" font-size="12" text-anchor="start" font-weight="normal" fill="#000" >41.1</text><text x="157" y="216.2" font-size="12" text-anchor="start" font-weight="normal" fill="#000" >99.3</text><text x="251" y="216.2" font-size="12" text-anchor="start" font-weight="normal" fill="#000" >99.2</text><path d="M52.5 347.2 L90 347.2 L90 361.22999999999996 L91.8 361.22999999999996 L91.8 403.32 L93.7 403.32 L93.7 431.38 L95.7 431.38 L95.7 445.40999999999997 L97.5 445.40999999999997 L97.5 459.44 L101 459.44 L101 473.47 L181.4 473.47 L181.4 487.5" fill="none" stroke="#222" stroke-width="1.1"/><path d="M52.5 347.2 L118 347.2 L118 356.6001 L136.5 356.6001 L136.5 375.26 L150 375.26 L150 384.6601 L161.3 384.6601 L161.3 393.9199 L240 393.9199" fill="none" stroke="#111" stroke-width="1.1"/><path d="M52.5 347.2 L127.5 347.2 L127.5 362.7733 L129.2 362.7733 L129.2 393.9199 L234 393.9199" fill="none" stroke="#111" stroke-width="1.1"/><path d="M52.5 347.2 L135 347.2 L135 382.275 L136 382.275 L136 434.8875 L239.5 434.8875" fill="none" stroke="#000" stroke-width="1.25"/><path d="M52.5 347.2 V487.5 H240.5" fill="none" stroke="#000" stroke-width="1.5"/><line x1="49.1" y1="487.5" x2="52.5" y2="487.5" stroke="#000" stroke-width="1.5"/><text x="48.9" y="491.5" font-size="11.3" text-anchor="end" font-weight="bold" fill="#000" >0</text><line x1="49.1" y1="459.44" x2="52.5" y2="459.44" stroke="#000" stroke-width="1.5"/><text x="48.9" y="463.44" font-size="11.3" text-anchor="end" font-weight="bold" fill="#000" >20</text><line x1="49.1" y1="431.38" x2="52.5" y2="431.38" stroke="#000" stroke-width="1.5"/><text x="48.9" y="435.38" font-size="11.3" text-anchor="end" font-weight="bold" fill="#000" >40</text><line x1="49.1" y1="403.32" x2="52.5" y2="403.32" stroke="#000" stroke-width="1.5"/><text x="48.9" y="407.32" font-size="11.3" text-anchor="end" font-weight="bold" fill="#000" >60</text><line x1="49.1" y1="375.26" x2="52.5" y2="375.26" stroke="#000" stroke-width="1.5"/><text x="48.9" y="379.26" font-size="11.3" text-anchor="end" font-weight="bold" fill="#000" >80</text><line x1="49.1" y1="347.2" x2="52.5" y2="347.2" stroke="#000" stroke-width="1.5"/><text x="48.9" y="351.2" font-size="11.3" text-anchor="end" font-weight="bold" fill="#000" >100</text><line x1="52.5" y1="487.5" x2="52.5" y2="490.9" stroke="#000" stroke-width="1.5"/><text x="52.5" y="502.0" font-size="11.8" text-anchor="middle" font-weight="bold" fill="#000" >0</text><line x1="90.0" y1="487.5" x2="90.0" y2="490.9" stroke="#000" stroke-width="1.5"/><text x="90.0" y="502.0" font-size="11.8" text-anchor="middle" font-weight="bold" fill="#000" >20</text><line x1="127.5" y1="487.5" x2="127.5" y2="490.9" stroke="#000" stroke-width="1.5"/><text x="127.5" y="502.0" font-size="11.8" text-anchor="middle" font-weight="bold" fill="#000" >40</text><line x1="165.0" y1="487.5" x2="165.0" y2="490.9" stroke="#000" stroke-width="1.5"/><text x="165.0" y="502.0" font-size="11.8" text-anchor="middle" font-weight="bold" fill="#000" >60</text><line x1="202.5" y1="487.5" x2="202.5" y2="490.9" stroke="#000" stroke-width="1.5"/><text x="202.5" y="502.0" font-size="11.8" text-anchor="middle" font-weight="bold" fill="#000" >80</text><line x1="240.0" y1="487.5" x2="240.0" y2="490.9" stroke="#000" stroke-width="1.5"/><text x="240.0" y="502.0" font-size="11.8" text-anchor="middle" font-weight="bold" fill="#000" >100</text><path d="M90 357.62999999999994 L93.78 364.28999999999996 L86.22 364.28999999999996 Z" fill="#000"/><path d="M91.8 399.71999999999997 L95.58 406.38 L88.02 406.38 Z" fill="#000"/><path d="M93.7 427.78 L97.48 434.44 L89.92 434.44 Z" fill="#000"/><path d="M95.7 441.80999999999995 L99.48 448.46999999999997 L91.92 448.46999999999997 Z" fill="#000"/><path d="M97.5 455.84 L101.28 462.5 L93.72 462.5 Z" fill="#000"/><path d="M101 469.87 L104.78 476.53000000000003 L97.22 476.53000000000003 Z" fill="#000"/><path d="M181.4 483.9 L185.18 490.56 L177.62 490.56 Z" fill="#000"/><rect x="114.7" y="353.3001" width="6.6" height="6.6" fill="none" stroke="#000" stroke-width="1.1"/><rect x="133.2" y="371.96" width="6.6" height="6.6" fill="none" stroke="#000" stroke-width="1.1"/><rect x="146.7" y="381.3601" width="6.6" height="6.6" fill="none" stroke="#000" stroke-width="1.1"/><rect x="158.0" y="390.6199" width="6.6" height="6.6" fill="none" stroke="#000" stroke-width="1.1"/><rect x="236.7" y="390.6199" width="6.6" height="6.6" fill="none" stroke="#000" stroke-width="1.1"/><rect x="124.2" y="359.4733" width="6.6" height="6.6" fill="none" stroke="#000" stroke-width="1.1"/><rect x="124.2" y="362.7733" width="6.6" height="3.3" fill="#000"/><rect x="125.89999999999999" y="390.6199" width="6.6" height="6.6" fill="none" stroke="#000" stroke-width="1.1"/><rect x="125.89999999999999" y="393.9199" width="6.6" height="3.3" fill="#000"/><rect x="230.5" y="390.6199" width="6.6" height="6.6" fill="none" stroke="#000" stroke-width="1.1"/><rect x="230.5" y="393.9199" width="6.6" height="3.3" fill="#000"/><rect x="131.7" y="378.97499999999997" width="6.6" height="6.6" fill="#000"/><rect x="132.7" y="431.5875" width="6.6" height="6.6" fill="#000"/><rect x="236.2" y="431.5875" width="6.6" height="6.6" fill="#000"/><text x="0" y="0" font-size="13.8" text-anchor="middle" font-weight="normal" fill="#000" transform="translate(20.6,425.8) rotate(-90)">Percent survival</text><text x="148.45" y="516.1" font-size="13.8" text-anchor="middle" font-weight="normal" fill="#000" >Days after transplantation</text><path d="M318.6 348 L354.8 348 L354.8 362.12 L356.6 362.12 L356.6 404.48 L358.4 404.48 L358.4 432.72 L360.2 432.72 L360.2 446.84000000000003 L362 446.84000000000003 L362 460.96 L365.6 460.96 L365.6 475.08 L444 475.08 L444 489.2" fill="none" stroke="#222" stroke-width="1.1"/><path d="M318.6 348 L398.8 348 L398.8 376.24 L400.5 376.24 L400.5 404.48 L402.5 404.48 L402.5 446.84000000000003 L500.5 446.84000000000003" fill="none" stroke="#000" stroke-width="1.8"/><path d="M318.6 348 L500.5 348" fill="none" stroke="#222" stroke-width="1.2"/><path d="M318.6 348 V489.2 H502" fill="none" stroke="#000" stroke-width="1.5"/><line x1="315.20000000000005" y1="489.2" x2="318.6" y2="489.2" stroke="#000" stroke-width="1.5"/><text x="315.0" y="493.2" font-size="11.3" text-anchor="end" font-weight="bold" fill="#000" >0</text><line x1="315.20000000000005" y1="460.96" x2="318.6" y2="460.96" stroke="#000" stroke-width="1.5"/><text x="315.0" y="464.96" font-size="11.3" text-anchor="end" font-weight="bold" fill="#000" >20</text><line x1="315.20000000000005" y1="432.72" x2="318.6" y2="432.72" stroke="#000" stroke-width="1.5"/><text x="315.0" y="436.72" font-size="11.3" text-anchor="end" font-weight="bold" fill="#000" >40</text><line x1="315.20000000000005" y1="404.48" x2="318.6" y2="404.48" stroke="#000" stroke-width="1.5"/><text x="315.0" y="408.48" font-size="11.3" text-anchor="end" font-weight="bold" fill="#000" >60</text><line x1="315.20000000000005" y1="376.24" x2="318.6" y2="376.24" stroke="#000" stroke-width="1.5"/><text x="315.0" y="380.24" font-size="11.3" text-anchor="end" font-weight="bold" fill="#000" >80</text><line x1="315.20000000000005" y1="348.0" x2="318.6" y2="348.0" stroke="#000" stroke-width="1.5"/><text x="315.0" y="352.0" font-size="11.3" text-anchor="end" font-weight="bold" fill="#000" >100</text><line x1="318.6" y1="489.2" x2="318.6" y2="492.59999999999997" stroke="#000" stroke-width="1.5"/><text x="318.6" y="503.7" font-size="11.8" text-anchor="middle" font-weight="bold" fill="#000" >0</text><line x1="354.70000000000005" y1="489.2" x2="354.70000000000005" y2="492.59999999999997" stroke="#000" stroke-width="1.5"/><text x="354.70000000000005" y="503.7" font-size="11.8" text-anchor="middle" font-weight="bold" fill="#000" >20</text><line x1="390.8" y1="489.2" x2="390.8" y2="492.59999999999997" stroke="#000" stroke-width="1.5"/><text x="390.8" y="503.7" font-size="11.8" text-anchor="middle" font-weight="bold" fill="#000" >40</text><line x1="426.90000000000003" y1="489.2" x2="426.90000000000003" y2="492.59999999999997" stroke="#000" stroke-width="1.5"/><text x="426.90000000000003" y="503.7" font-size="11.8" text-anchor="middle" font-weight="bold" fill="#000" >60</text><line x1="463.0" y1="489.2" x2="463.0" y2="492.59999999999997" stroke="#000" stroke-width="1.5"/><text x="463.0" y="503.7" font-size="11.8" text-anchor="middle" font-weight="bold" fill="#000" >80</text><line x1="499.1" y1="489.2" x2="499.1" y2="492.59999999999997" stroke="#000" stroke-width="1.5"/><text x="499.1" y="503.7" font-size="11.8" text-anchor="middle" font-weight="bold" fill="#000" >100</text><path d="M354.8 358.52 L358.58 365.18 L351.02000000000004 365.18 Z" fill="#000"/><path d="M356.6 400.88 L360.38 407.54 L352.82000000000005 407.54 Z" fill="#000"/><path d="M358.4 429.12 L362.17999999999995 435.78000000000003 L354.62 435.78000000000003 Z" fill="#000"/><path d="M360.2 443.24 L363.97999999999996 449.90000000000003 L356.42 449.90000000000003 Z" fill="#000"/><path d="M362 457.35999999999996 L365.78 464.02 L358.22 464.02 Z" fill="#000"/><path d="M365.6 471.47999999999996 L369.38 478.14 L361.82000000000005 478.14 Z" fill="#000"/><path d="M444 485.59999999999997 L447.78 492.26 L440.22 492.26 Z" fill="#000"/><circle cx="398.8" cy="376.24" r="3.6999999999999997" fill="#000"/><circle cx="400.5" cy="404.48" r="3.6999999999999997" fill="#000"/><circle cx="402.5" cy="446.84000000000003" r="3.6999999999999997" fill="#000"/><circle cx="500.5" cy="446.84000000000003" r="3.6999999999999997" fill="#000"/><circle cx="493.8" cy="348" r="3.3" fill="#fff" stroke="#000" stroke-width="1.1"/><path d="M490.5 348 A3.3 3.3 0 0 0 497.1 348 Z" fill="#000"/><circle cx="500.5" cy="348" r="3.3" fill="none" stroke="#000" stroke-width="1.1"/><text x="0" y="0" font-size="13.8" text-anchor="middle" font-weight="normal" fill="#000" transform="translate(284.6,422.7) rotate(-90)">Percent survival</text><text x="410.35" y="517.5" font-size="13.8" text-anchor="middle" font-weight="normal" fill="#000" >Days after transplantation</text><text x="32" y="537.0" font-size="12" textLength="202.5" lengthAdjust="spacing">TCD BM + Naive CD8<tspan font-size="8" dy="-4.6">+</tspan><tspan dy="4.6"> T (0.5 million)</tspan></text><line x1="8.600000000000001" y1="532.6" x2="19.0" y2="532.6" stroke="#000" stroke-width="1.1"/><rect x="10.4" y="529.2" width="6.8" height="6.8" fill="none" stroke="#000" stroke-width="1.1"/><text x="32" y="552.45" font-size="12" textLength="202.5" lengthAdjust="spacing">TCD BM + Naive CD8<tspan font-size="8" dy="-4.6">+</tspan><tspan dy="4.6"> T (0.1 million)</tspan></text><line x1="8.600000000000001" y1="548.0500000000001" x2="19.0" y2="548.0500000000001" stroke="#000" stroke-width="1.1"/><rect x="10.4" y="544.6500000000001" width="6.8" height="6.8" fill="none" stroke="#000" stroke-width="1.1"/><rect x="10.4" y="548.0500000000001" width="6.8" height="3.4" fill="#000"/><text x="32" y="567.9" font-size="12" textLength="209.3" lengthAdjust="spacing">TCD BM + Naive CD8<tspan font-size="8" dy="-4.6">+</tspan><tspan dy="4.6"> T (0.05 million)</tspan></text><line x1="8.600000000000001" y1="563.5" x2="19.0" y2="563.5" stroke="#000" stroke-width="1.1"/><rect x="10.4" y="560.1" width="6.8" height="6.8" fill="#000"/><text x="32" y="583.35" font-size="12" text-anchor="start" font-weight="normal" fill="#000" >TCD BM</text><line x1="8.600000000000001" y1="578.95" x2="19.0" y2="578.95" stroke="#000" stroke-width="1.1"/><path d="M13.8 575.5500000000001 L17.37 581.84 L10.23 581.84 Z" fill="#000"/><text x="295" y="535.5" font-size="12" textLength="215.5" lengthAdjust="spacing">TCD BM + Memory CD8<tspan font-size="8" dy="-4.6">+</tspan><tspan dy="4.6"> T (0.5 million)</tspan></text><line x1="275.3" y1="531.1" x2="285.7" y2="531.1" stroke="#000" stroke-width="1.1"/><circle cx="280.5" cy="531.1" r="3.3" fill="none" stroke="#000" stroke-width="1.1"/><text x="295" y="551.1" font-size="12" textLength="215.5" lengthAdjust="spacing">TCD BM + Memory CD8<tspan font-size="8" dy="-4.6">+</tspan><tspan dy="4.6"> T (0.1 million)</tspan></text><line x1="275.3" y1="546.7" x2="285.7" y2="546.7" stroke="#000" stroke-width="1.1"/><circle cx="280.5" cy="546.7" r="3.3" fill="#fff" stroke="#000" stroke-width="1.1"/><path d="M277.2 546.7 A3.3 3.3 0 0 0 283.8 546.7 Z" fill="#000"/><text x="295" y="566.7" font-size="12" textLength="222.0" lengthAdjust="spacing">TCD BM + Memory CD8<tspan font-size="8" dy="-4.6">+</tspan><tspan dy="4.6"> T (0.05 million)</tspan></text><line x1="275.3" y1="562.3000000000001" x2="285.7" y2="562.3000000000001" stroke="#000" stroke-width="1.1"/><circle cx="280.5" cy="562.3000000000001" r="3.6999999999999997" fill="#000"/><text x="295" y="582.3" font-size="12" text-anchor="start" font-weight="normal" fill="#000" >TCD BM</text><line x1="275.3" y1="577.9" x2="285.7" y2="577.9" stroke="#000" stroke-width="1.1"/><path d="M280.5 574.5 L284.07 580.79 L276.93 580.79 Z" fill="#000"/>
</svg></body></html>
